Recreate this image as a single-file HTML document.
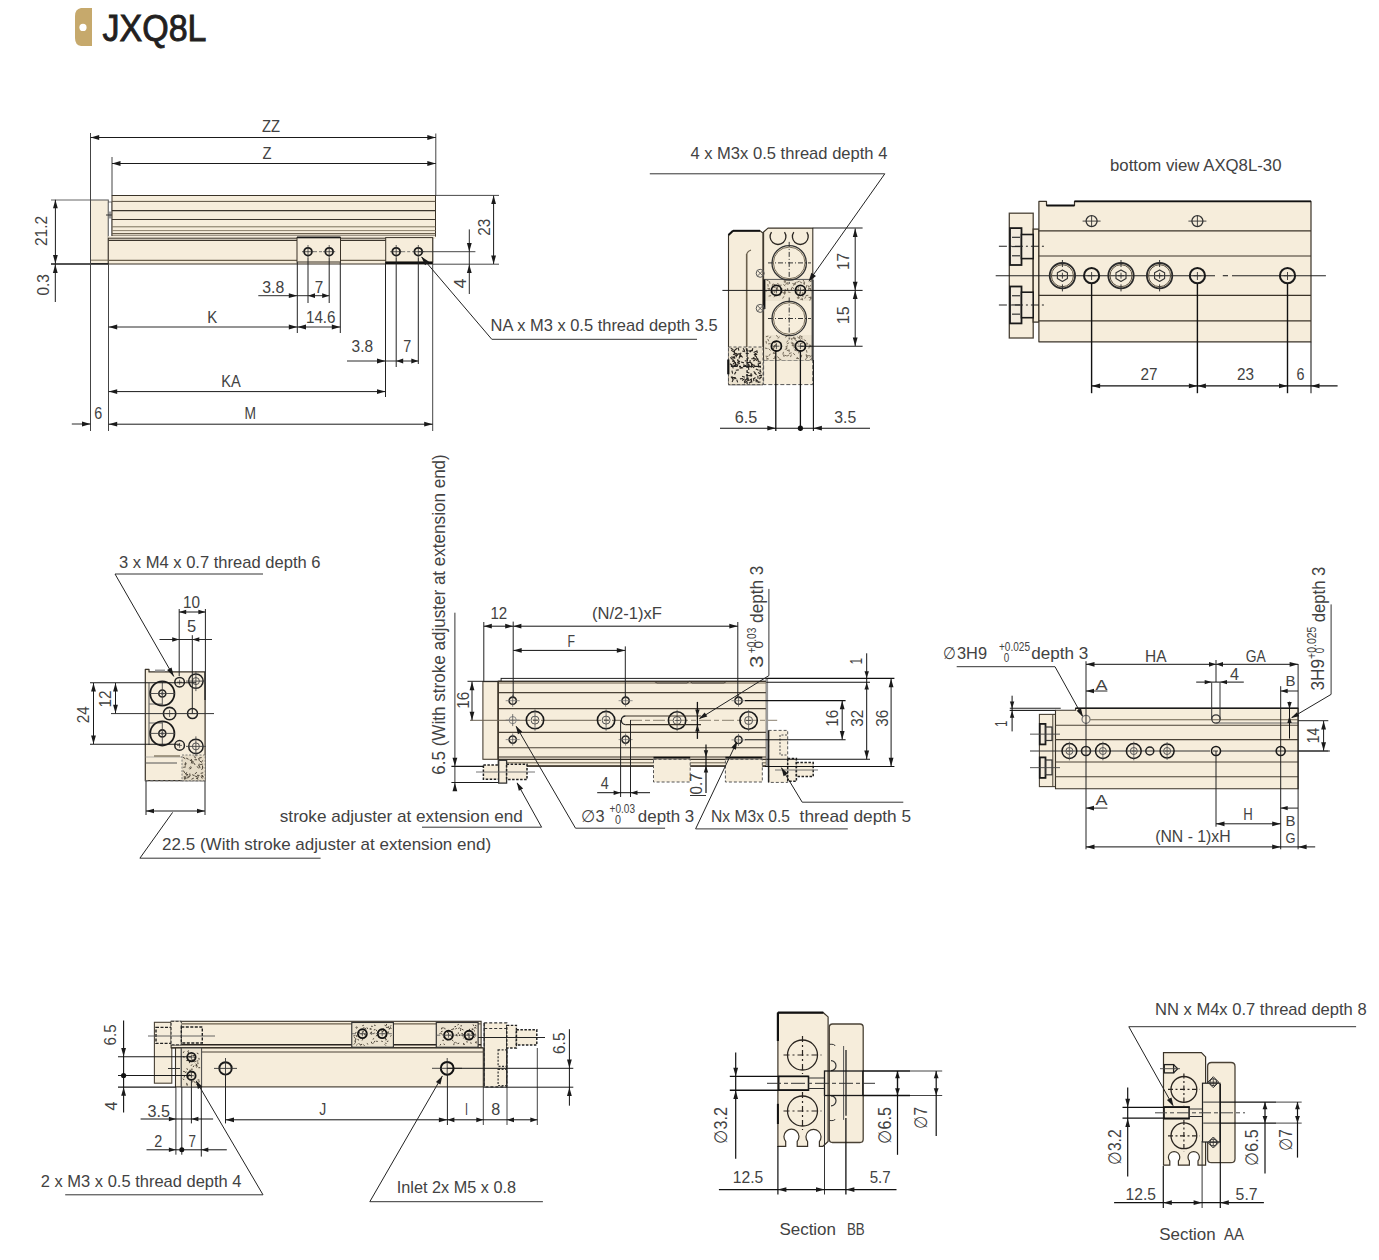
<!DOCTYPE html>
<html><head><meta charset="utf-8"><style>
html,body{margin:0;padding:0;background:#fff;}
svg{display:block;}
text{font-family:"Liberation Sans",sans-serif;}
</style></head><body>
<svg width="1379" height="1260" viewBox="0 0 1379 1260">
<rect x="0" y="0" width="1379" height="1260" fill="#fff"/>
<path d="M81,8 L92,8 L92,46 L81,46 Q75,45 75,38 L75,16 Q75,9 81,8 Z" stroke="none" stroke-width="0" fill="#c6a96c"/>
<circle cx="83" cy="27.4" r="3.6" stroke="none" stroke-width="0" fill="#fff"/>
<text x="102.5" y="40.5" font-size="37" fill="#231f20" text-anchor="start" textLength="104" lengthAdjust="spacingAndGlyphs" stroke="#231f20" stroke-width="0.9">JXQ8L</text>
<rect x="90.5" y="200" width="17.8" height="63.5" stroke="#555" stroke-width="1" fill="#f6eddb"/>
<line x1="90.5" y1="260.2" x2="108.3" y2="260.2" stroke="#8a7f6a" stroke-width="1.2"/>
<rect x="108.3" y="202" width="3.7" height="34.5" stroke="#555" stroke-width="0.8" fill="#fff"/>
<line x1="106" y1="215" x2="116" y2="215" stroke="#333" stroke-width="1"/>
<line x1="110" y1="211.5" x2="110" y2="218.5" stroke="#333" stroke-width="1"/>
<rect x="112" y="195.5" width="323.5" height="41" stroke="#3a3328" stroke-width="1" fill="#f6eddb"/>
<line x1="112" y1="201.4" x2="435.5" y2="201.4" stroke="#5a5040" stroke-width="1"/>
<line x1="112" y1="210.7" x2="435.5" y2="210.7" stroke="#3b352c" stroke-width="1.2"/>
<line x1="112" y1="219.5" x2="435.5" y2="219.5" stroke="#3b352c" stroke-width="1.2"/>
<line x1="112" y1="226.8" x2="435.5" y2="226.8" stroke="#7a6f5c" stroke-width="1"/>
<line x1="112" y1="230.6" x2="435.5" y2="230.6" stroke="#8a7f6a" stroke-width="1"/>
<line x1="112" y1="233.7" x2="435.5" y2="233.7" stroke="#6a5f4c" stroke-width="1.2"/>
<line x1="112" y1="236.3" x2="435.5" y2="236.3" stroke="#4a4236" stroke-width="1.6"/>
<rect x="108.3" y="236" width="327" height="3" fill="#f6eddb"/>
<rect x="108.3" y="238.2" width="324.4" height="25.8" stroke="#3a3328" stroke-width="1" fill="#f6eddb"/>
<line x1="108.3" y1="240.3" x2="432.7" y2="240.3" stroke="#3b352c" stroke-width="1.2"/>
<line x1="108.3" y1="260.4" x2="432.7" y2="260.4" stroke="#6a5f4c" stroke-width="1.2"/>
<rect x="297" y="237.6" width="43.5" height="24.4" stroke="#3a3328" stroke-width="1" fill="#f6eddb"/>
<circle cx="308" cy="251.7" r="3.9" stroke="#1a1a1a" stroke-width="1.8" fill="none"/>
<line x1="302" y1="251.7" x2="314" y2="251.7" stroke="#333" stroke-width="0.8"/>
<line x1="308" y1="245" x2="308" y2="258" stroke="#333" stroke-width="0.8"/>
<circle cx="329.2" cy="251.7" r="3.9" stroke="#1a1a1a" stroke-width="1.8" fill="none"/>
<line x1="323.2" y1="251.7" x2="335.2" y2="251.7" stroke="#333" stroke-width="0.8"/>
<line x1="329.2" y1="245" x2="329.2" y2="258" stroke="#333" stroke-width="0.8"/>
<line x1="314" y1="251.7" x2="323.2" y2="251.7" stroke="#555" stroke-width="0.8" stroke-dasharray="3,2"/>
<rect x="385.7" y="237.6" width="47" height="24.4" stroke="#3a3328" stroke-width="1" fill="#f6eddb"/>
<circle cx="396.2" cy="251.7" r="3.9" stroke="#1a1a1a" stroke-width="1.8" fill="none"/>
<line x1="390.2" y1="251.7" x2="402.2" y2="251.7" stroke="#333" stroke-width="0.8"/>
<line x1="396.2" y1="245" x2="396.2" y2="258" stroke="#333" stroke-width="0.8"/>
<circle cx="418.3" cy="251.7" r="3.9" stroke="#1a1a1a" stroke-width="1.8" fill="none"/>
<line x1="412.3" y1="251.7" x2="424.3" y2="251.7" stroke="#333" stroke-width="0.8"/>
<line x1="418.3" y1="245" x2="418.3" y2="258" stroke="#333" stroke-width="0.8"/>
<line x1="402.2" y1="251.7" x2="412.3" y2="251.7" stroke="#555" stroke-width="0.8" stroke-dasharray="3,2"/>
<line x1="297" y1="237.4" x2="340.5" y2="237.4" stroke="#1a1a1a" stroke-width="1.6"/>
<line x1="385.7" y1="262.8" x2="432.7" y2="262.8" stroke="#111" stroke-width="2.2"/>
<line x1="51" y1="264" x2="108.3" y2="264" stroke="#1a1a1a" stroke-width="1.3"/>
<line x1="432.7" y1="264.2" x2="499" y2="264.2" stroke="#333" stroke-width="0.9"/>
<line x1="435.5" y1="195.4" x2="499" y2="195.4" stroke="#333" stroke-width="0.9"/>
<line x1="51" y1="200" x2="90.5" y2="200" stroke="#555" stroke-width="0.9"/>
<line x1="418.3" y1="251.7" x2="475.4" y2="251.7" stroke="#333" stroke-width="0.9"/>
<line x1="90.5" y1="133" x2="90.5" y2="431" stroke="#444" stroke-width="1"/>
<line x1="112" y1="157" x2="112" y2="195.5" stroke="#444" stroke-width="1"/>
<line x1="435.8" y1="133.5" x2="435.8" y2="195.5" stroke="#444" stroke-width="1"/>
<line x1="108.5" y1="264" x2="108.5" y2="431" stroke="#444" stroke-width="1"/>
<line x1="432.7" y1="264" x2="432.7" y2="431" stroke="#444" stroke-width="1"/>
<line x1="297.3" y1="262" x2="297.3" y2="333" stroke="#222" stroke-width="1"/>
<line x1="308" y1="258" x2="308" y2="303" stroke="#222" stroke-width="1"/>
<line x1="329.2" y1="258" x2="329.2" y2="303" stroke="#222" stroke-width="1"/>
<line x1="340.3" y1="262" x2="340.3" y2="333" stroke="#222" stroke-width="1"/>
<line x1="385.5" y1="262" x2="385.5" y2="397" stroke="#222" stroke-width="1"/>
<line x1="396.2" y1="258" x2="396.2" y2="367" stroke="#222" stroke-width="1"/>
<line x1="418.3" y1="258" x2="418.3" y2="364" stroke="#222" stroke-width="1"/>
<line x1="90.7" y1="137.5" x2="435.8" y2="137.5" stroke="#1a1a1a" stroke-width="1"/>
<polygon points="90.7,137.5 99.2,135.1 99.2,139.9" fill="#1a1a1a"/>
<polygon points="435.8,137.5 427.3,139.9 427.3,135.1" fill="#1a1a1a"/>
<text x="262" y="132.2" font-size="17" fill="#424242" text-anchor="start" textLength="18" lengthAdjust="spacingAndGlyphs">ZZ</text>
<line x1="112" y1="163.5" x2="435.8" y2="163.5" stroke="#1a1a1a" stroke-width="1"/>
<polygon points="112,163.5 120.5,161.1 120.5,165.9" fill="#1a1a1a"/>
<polygon points="435.8,163.5 427.3,165.9 427.3,161.1" fill="#1a1a1a"/>
<text x="262.5" y="159.2" font-size="17" fill="#424242" text-anchor="start" textLength="9" lengthAdjust="spacingAndGlyphs">Z</text>
<line x1="55.4" y1="199.8" x2="55.4" y2="263.6" stroke="#1a1a1a" stroke-width="1"/>
<polygon points="55.4,199.8 57.8,208.3 53,208.3" fill="#1a1a1a"/>
<polygon points="55.4,263.6 53,255.1 57.8,255.1" fill="#1a1a1a"/>
<text transform="translate(47.4,246) rotate(-90)" x="0" y="0" font-size="17" fill="#424242" textLength="30" lengthAdjust="spacingAndGlyphs">21.2</text>
<line x1="55.3" y1="263.6" x2="55.3" y2="302" stroke="#1a1a1a" stroke-width="1"/>
<polygon points="55.3,264.5 57.7,273 52.9,273" fill="#1a1a1a"/>
<text transform="translate(49.2,295.6) rotate(-90)" x="0" y="0" font-size="17" fill="#424242" textLength="21.5" lengthAdjust="spacingAndGlyphs">0.3</text>
<line x1="493.6" y1="195.6" x2="493.6" y2="264" stroke="#1a1a1a" stroke-width="1"/>
<polygon points="493.6,195.6 496,204.1 491.2,204.1" fill="#1a1a1a"/>
<polygon points="493.6,264 491.2,255.5 496,255.5" fill="#1a1a1a"/>
<text transform="translate(490.4,235.8) rotate(-90)" x="0" y="0" font-size="17" fill="#424242" textLength="17" lengthAdjust="spacingAndGlyphs">23</text>
<line x1="469.3" y1="229.4" x2="469.3" y2="294" stroke="#2a2a2a" stroke-width="1"/>
<polygon points="469.3,251.5 466.9,243 471.7,243" fill="#1a1a1a"/>
<polygon points="469.3,264.4 471.7,272.9 466.9,272.9" fill="#1a1a1a"/>
<text transform="translate(466,288.6) rotate(-90)" x="0" y="0" font-size="17" fill="#424242" textLength="10" lengthAdjust="spacingAndGlyphs">4</text>
<line x1="258.3" y1="295.7" x2="329.2" y2="295.7" stroke="#2a2a2a" stroke-width="1"/>
<polygon points="297.3,295.7 288.8,298.1 288.8,293.3" fill="#1a1a1a"/>
<polygon points="308,295.7 315,293.3 315,298.1" fill="#1a1a1a"/>
<polygon points="329.2,295.7 322.2,298.1 322.2,293.3" fill="#1a1a1a"/>
<text x="262.3" y="292.6" font-size="17" fill="#424242" text-anchor="start" textLength="22" lengthAdjust="spacingAndGlyphs">3.8</text>
<text x="314.8" y="292.6" font-size="17" fill="#424242" text-anchor="start" textLength="8.5" lengthAdjust="spacingAndGlyphs">7</text>
<line x1="108.5" y1="327" x2="340.3" y2="327" stroke="#2a2a2a" stroke-width="1"/>
<polygon points="108.7,327 117.2,324.6 117.2,329.4" fill="#1a1a1a"/>
<polygon points="297.3,327 288.8,329.4 288.8,324.6" fill="#1a1a1a"/>
<polygon points="297.5,327 306,324.6 306,329.4" fill="#1a1a1a"/>
<polygon points="340.3,327 331.8,329.4 331.8,324.6" fill="#1a1a1a"/>
<text x="207.3" y="322.7" font-size="17" fill="#424242" text-anchor="start" textLength="10" lengthAdjust="spacingAndGlyphs">K</text>
<text x="306" y="322.7" font-size="17" fill="#424242" text-anchor="start" textLength="29.5" lengthAdjust="spacingAndGlyphs">14.6</text>
<line x1="347" y1="361" x2="418.3" y2="361" stroke="#2a2a2a" stroke-width="1"/>
<polygon points="385.5,361 377,363.4 377,358.6" fill="#1a1a1a"/>
<polygon points="396.2,361 403.2,358.6 403.2,363.4" fill="#1a1a1a"/>
<polygon points="418.3,361 411.3,363.4 411.3,358.6" fill="#1a1a1a"/>
<text x="351.6" y="351.6" font-size="17" fill="#424242" text-anchor="start" textLength="21.5" lengthAdjust="spacingAndGlyphs">3.8</text>
<text x="403.3" y="351.6" font-size="17" fill="#424242" text-anchor="start" textLength="8" lengthAdjust="spacingAndGlyphs">7</text>
<line x1="108.7" y1="391.6" x2="385.5" y2="391.6" stroke="#1a1a1a" stroke-width="1"/>
<polygon points="108.7,391.6 117.2,389.2 117.2,394" fill="#1a1a1a"/>
<polygon points="385.5,391.6 377,394 377,389.2" fill="#1a1a1a"/>
<text x="221.3" y="386.7" font-size="17" fill="#424242" text-anchor="start" textLength="19.5" lengthAdjust="spacingAndGlyphs">KA</text>
<line x1="71.8" y1="424" x2="90.5" y2="424" stroke="#2a2a2a" stroke-width="1"/>
<polygon points="90.5,424 82,426.4 82,421.6" fill="#1a1a1a"/>
<text x="94.3" y="418.8" font-size="17" fill="#424242" text-anchor="start" textLength="8" lengthAdjust="spacingAndGlyphs">6</text>
<line x1="108.7" y1="424.2" x2="432.7" y2="424.2" stroke="#1a1a1a" stroke-width="1"/>
<polygon points="108.7,424.2 117.2,421.8 117.2,426.6" fill="#1a1a1a"/>
<polygon points="432.7,424.2 424.2,426.6 424.2,421.8" fill="#1a1a1a"/>
<text x="244.4" y="419" font-size="17" fill="#424242" text-anchor="start" textLength="11.5" lengthAdjust="spacingAndGlyphs">M</text>
<line x1="421.7" y1="257" x2="491.8" y2="339.3" stroke="#222" stroke-width="1"/>
<polygon points="421.2,256.6 429.03,261.75 425.07,265.13" fill="#1a1a1a"/>
<line x1="491.8" y1="339.3" x2="697" y2="339.3" stroke="#333" stroke-width="1"/>
<text x="490.6" y="331.2" font-size="17" fill="#424242" text-anchor="start" textLength="227" lengthAdjust="spacingAndGlyphs">NA x M3 x 0.5 thread depth 3.5</text>
<text x="690.4" y="159.2" font-size="17" fill="#424242" text-anchor="start" textLength="197" lengthAdjust="spacingAndGlyphs">4 x M3x 0.5 thread depth 4</text>
<polygon points="733,230.8 760,230.8 762.9,233 762.9,384.6 728.5,384.6 728.5,235" stroke="#3a3328" stroke-width="1.1" fill="#f6eddb" stroke-linejoin="round"/>
<line x1="728.5" y1="235" x2="733" y2="230.8" stroke="#111" stroke-width="2"/>
<line x1="733" y1="230.8" x2="760" y2="230.8" stroke="#111" stroke-width="2"/>
<line x1="746.7" y1="253.7" x2="746.7" y2="349.6" stroke="#6a5f4c" stroke-width="1.6"/>
<path d="M746.7,253.7 Q748,251 751,250" stroke="#6a5f4c" stroke-width="1.2" fill="none"/>
<polygon points="768,228.1 812.8,228.1 812.8,360.3 763.6,360.3 763.6,232" stroke="#3a3328" stroke-width="1.1" fill="#f6eddb" stroke-linejoin="round"/>
<rect x="763.6" y="360.3" width="49.2" height="24.3" stroke="#555" stroke-width="1" fill="#f6eddb" stroke-dasharray="4,2"/>
<rect x="728.5" y="347" width="34.5" height="37.6" stroke="#555" stroke-width="1" fill="#efe5d0" stroke-dasharray="3,2"/>
<rect x="729.5" y="348" width="32.5" height="35.6" fill="#ece3d0"/>
<path d="M741.06,352.73L739.69,355.4M732.09,365.64L733.32,368.37M730.78,365.87L733.76,366.23M742.29,350.93L745.17,351.77M742.06,376.21L744.84,377.35M738.79,369.84L735.83,370.33M749.6,362.22L746.61,362.44M731,376.66L732.84,379.03M734.05,351.72L735.75,354.19M755.77,353.62L755.01,356.52M750.21,360.03L749.76,363M731.22,350.1L733.61,351.91M750.43,362.12L752.08,364.62M747.48,363.01L749.24,365.44M753.65,371.45L755.81,373.53M749.41,366.07L746.63,367.22M754.25,358.58L751.25,358.77M735.19,362.01L733.02,364.09M733.65,365.24L736.62,365.61M751.22,373.23L750.54,376.15M758.07,358.32L756.34,360.77M748.42,367L748.83,369.97M756,379.25L756.24,382.24M751.64,349.83L749.87,352.25M751.51,381.57L748.97,383.16M739.94,360.67L738.42,363.26M729.89,363.76L732.48,365.27M735.19,349.98L732.95,351.98M733.94,355.91L734.95,358.73M756.84,350.23L757.32,353.19M748.52,377.88L745.99,379.49M756.46,356.91L757.25,359.8M742.93,378.51L739.96,378.91M733.98,353.92L736.22,355.92M738.03,363.85L737.2,366.74M738.14,347.69L738.89,350.59M743.25,367.81L740.28,368.25M752.1,364.92L751.02,367.72M752.55,350.35L749.7,351.28M755.5,377.49L753.08,379.27M741.05,361.93L743.89,362.89M748.38,350.78L751.31,351.41M736.14,353.14L737.59,355.77M730.77,348.32L733.44,349.69M732.1,361.1L735.09,361.34M755.83,368.96L758.51,370.31M737.57,359.31L738.81,362.04M735.75,377.49L732.75,377.56M743.27,364.86L746.16,365.66M732.61,359.4L734.63,361.62M754.28,354.32L757.28,354.53M758.16,366.08L760.85,367.42M747.2,348.41L746.93,351.4M761.21,376.78L759.48,379.23M737.17,360.57L739.76,362.07M755.2,365.94L752.89,367.85M741.8,355.66L739.31,357.33M761.77,376.79L759.31,378.51M754.32,372.88L756.59,374.84M744.79,360.81L747.78,361.08M730.32,357.3L732.38,359.48M751.37,379.66L751.87,382.62M760.56,381.99L757.59,382.41M740.49,355.43L742.76,357.39M737.07,354.48L735.93,357.25M757.86,375.74L758.06,378.74M748.97,375.47L751.86,376.26M751.81,378.62L749.49,380.52M752.11,364.26L754.65,365.86M755.78,359.29L753.35,361.05M759.68,360.87L760.59,363.73M758.09,372.59L760.67,374.12M735.81,353.64L732.94,354.52M756.38,353.13L753.82,354.69M759.72,369.75L761.08,372.42M745.74,353.33L748.73,353.47M760.24,369.33L759.99,372.32M760.36,362.99L757.6,364.16M754.64,355.02L756.75,357.16M739.84,355.64L739.03,358.53M737.04,362.48L739.79,363.68M758.06,359.4L758.45,362.37M747.92,377.93L748.66,380.84M758.64,364.36L758.34,367.35M746.19,348.15L746.75,351.1M737.3,348.25L734.87,350.02M736.73,363.77L734.78,366.05M747.56,358.46L747.39,361.45M746.02,374.86L748.86,375.84M746.62,356.2L748.56,358.5M754.34,364.59L753.76,367.53M753.41,378.18L753.95,381.14M749.24,364.49L749.12,367.49M751.78,362.71L751.47,365.69M745.96,379.42L744.2,381.85M756.21,379.57L758.26,381.75M748.88,379.97L746.25,381.42M734.41,351.61L734.95,354.56M731.25,356.74L734.17,357.43M752.34,374.86L749.5,375.82M735.93,371.75L734.49,374.38M736.35,378.51L733.37,378.82M736.73,379.58L737.67,382.43M746.66,381.51L744.06,383.01M735.5,362L735.35,365M740.03,354.31L741.65,356.84M752.78,348.18L752.27,351.13M743.18,348.31L744.69,350.9M748.06,365.91L751,366.51M762.04,375.36L759.05,375.62M732.21,357.74L735.18,358.11M752.88,357.49L755.64,358.68M744.64,378.82L742.11,380.43M739.84,353.64L736.94,354.4M746.46,372.12L749.34,372.95M731.91,370.66L732.6,373.58M733.32,379.16L732.09,381.9M756.3,351.16L753.6,352.47M732.31,376.51L732.75,379.47M742.3,367.24L739.38,367.93" stroke="#2a2520" stroke-width="1.1" fill="none"/>
<line x1="728.3" y1="359.5" x2="728.3" y2="374.3" stroke="#111" stroke-width="2.2"/>
<line x1="731" y1="366.4" x2="762" y2="366.4" stroke="#222" stroke-width="1.2" stroke-dasharray="6,2,2,2"/>
<line x1="747.1" y1="350" x2="747.1" y2="384" stroke="#222" stroke-width="1.2" stroke-dasharray="6,2,2,2"/>
<rect x="764.5" y="279.4" width="47.5" height="21.6" fill="#ece3d0"/>
<path d="M791.81,287.55L791.18,290.07M775.98,295.66L773.77,297.03M795.32,282.24L795.15,284.84M781.7,285.11L779.13,285.49M812.02,280.72L809.67,281.83M792.13,286.87L793.76,288.89M796.93,288.27L795.49,290.44M796.58,282.14L794.64,283.87M810.65,298.18L809.75,300.62M766.33,279.95L768.7,281.01M807.78,285.15L808.85,287.52M806.57,285.28L806.17,287.85M785.68,280.42L785,282.93M802.91,282.62L804.9,284.31M784.27,279.82L784.3,282.42M802.85,292L802.58,294.59M804.68,282.06L804.14,284.6M781.31,291.73L783.74,292.64M799.66,281.64L801.91,282.94M801.97,297.7L802.51,300.25M783.5,284.22L785.19,286.2M792.38,283.42L794.79,284.37M786.82,282.47L785.65,284.79M802.78,294.34L802.94,296.94M780.01,288.9L782.61,288.94M797.22,285.8L798.62,288M769.47,287.93L768.8,290.44M783.95,296.33L782.6,298.56M777.73,290.34L775.24,291.06M787.89,291.95L790.44,292.46M787.37,288.21L788.16,290.68M784.79,290.57L784.47,293.16M787.55,282.37L788.03,284.93M808.28,288.39L810.87,288.68M764.35,290.69L766.91,291.1M769.53,281.25L769.91,283.82M810.5,288.62L810.84,291.2M785.15,288.94L785.58,291.5M799.3,296.94L797.79,299.06M786.01,292.77L783.51,293.5M772.97,283.84L772.01,286.26M797.12,291.74L796.4,294.25M804.31,289.05L802.17,290.53M810.46,288.38L808.11,289.49M796.89,297.63L799.47,298.01M808.34,295.28L805.76,295.58M810.81,284.88L809.49,287.11M773.19,291.74L770.67,292.39M772.98,286.94L775.49,287.58M773.12,284.08L775.6,284.86M810.84,296.5L811.13,299.09M799.43,292.73L799.25,295.32M784.99,292.14L784.54,294.7M778.1,286.34L777.09,288.74M794.47,283.28L793.59,285.73M805.91,296.32L804.71,298.63M767.44,288.34L769.94,289.06M767.84,284.1L768.19,286.68M799.23,291.72L800.87,293.73M797.16,289.03L797.09,291.63M776.87,287.91L778.12,290.2M798.34,288.58L798.77,291.14M787.93,288.73L786.47,290.88M797.87,294.86L798.63,297.34M802.91,299.28L800.31,299.34M799.44,281.08L797.14,282.28M802.89,279.61L804.23,281.83M780.6,293.69L779.71,296.14M777.22,283.4L779.47,284.71M771.12,295.63L768.57,296.16M776.79,294.8L774.22,295.2M773.98,290.33L774.47,292.89M808.56,297.38L811.15,297.51" stroke="#6a6050" stroke-width="0.9" fill="none"/>
<rect x="764.5" y="335" width="47.5" height="25.3" fill="#ece3d0"/>
<path d="M787.35,348.74L784.82,349.35M787.04,346.58L786.33,349.08M774.42,346.73L773.39,349.12M800.83,337.13L802.33,339.25M770.37,353.8L768.88,355.93M768.7,358.74L766.11,359.03M794.11,349.73L796.4,350.96M764.91,348.07L767.46,348.55M772.86,341.51L775.45,341.76M787.75,345.65L785.47,346.88M789.12,349.62L789.12,352.22M794.81,345.66L796.48,347.65M812.03,358.57L809.75,359.83M796.73,342.49L798.68,344.2M779.62,336.77L777.69,338.51M783.26,354.51L784.17,356.94M807.79,355.74L810.39,355.74M774.92,355.92L775.16,358.5M808.84,344.96L811.37,345.56M793.28,353.16L795,355.11M770.76,343.6L768.17,343.9M799.06,337.84L800.92,339.66M771.14,336.62L769.05,338.17M773.37,347.75L773.8,350.31M772.98,352.53L775.37,353.57M794.47,337.45L795.11,339.97M776.48,342.17L773.89,342.4M803.27,342.63L800.84,343.55M776.25,344.61L773.92,345.76M796,338.29L793.4,338.38M776.18,341.17L774.22,342.87M779.2,342.61L781.73,343.2M768.66,348.68L770.54,350.48M792.67,343.37L793.05,345.95M809.44,346.01L808.84,348.54M803.78,339.65L806.08,340.87M805.91,354.14L807.75,355.97M775.41,352.99L772.86,353.47M775.66,357.67L773.23,358.61M791.73,345.4L794.19,346.24M766.31,357.55L768.21,359.32M798.66,341.3L796.45,342.67M791.53,342.16L793.75,343.52M797.3,336.75L799.26,338.46M791.41,354.64L790.49,357.08M777.21,356.6L779.29,358.15M766.03,340.99L766.47,343.55M767.73,338.92L768.77,341.3M790.99,337.89L792.08,340.25M806.65,357.7L805.42,359.99M795.77,349.06L798.13,350.17M768.34,336.06L765.85,336.78M796.1,358.35L798.69,358.52M795.31,346.26L793.59,348.21M778.75,358.98L781.27,359.59M791.58,352.77L789.11,353.57M800.07,351.61L798,353.18M807.85,343.11L806.42,345.28M806.15,355.04L806.82,357.55M801.76,354.85L801.17,357.39M794.27,343.65L793.6,346.16M793.75,336.69L792.65,339.05M811.55,355.52L809.84,357.48M783.5,351.87L782.85,354.38M784.29,355.2L786.8,355.87M800.04,335.46L799.23,337.93M788.14,340.31L786.62,342.42M789.38,350L786.87,350.64M776.38,335.21L777.9,337.32M795.24,340.06L797.48,341.38M806.47,350.1L806.95,352.66M806.72,342.49L805.43,344.75M775.6,345.3L773.47,346.78M806.64,355.3L807.56,357.73M790.85,342.83L793.21,343.91M789.25,354.91L786.93,356.1M797.02,357.14L798.7,359.13M772.35,345.51L774.04,347.49M775.74,344.45L774.74,346.85M789.11,342.72L786.83,343.98M808.92,346.24L811.45,346.84M765.64,356.17L768.22,356.51M797.01,348.22L798.48,350.37M800.33,335.91L802.7,336.98M787.31,335.91L785.08,337.24" stroke="#6a6050" stroke-width="0.9" fill="none"/>
<line x1="764.2" y1="279.4" x2="812.8" y2="279.4" stroke="#555" stroke-width="1"/>
<path d="M771.5,232.1 A7.9,7.9 0 1 0 784.5,232.1" stroke="#2a2520" stroke-width="1.3" fill="none"/>
<path d="M793.8,232.1 A7.9,7.9 0 1 0 806.8,232.1" stroke="#2a2520" stroke-width="1.3" fill="none"/>
<circle cx="789.2" cy="262.9" r="17.2" stroke="#333" stroke-width="1.3" fill="none"/>
<circle cx="789.2" cy="262.9" r="15.8" stroke="#6a5f4c" stroke-width="0.9" fill="none"/>
<line x1="768" y1="262.9" x2="811" y2="262.9" stroke="#333" stroke-width="1" stroke-dasharray="5,2,1,2"/>
<line x1="789.2" y1="241.9" x2="789.2" y2="283.9" stroke="#333" stroke-width="1" stroke-dasharray="5,2,1,2"/>
<circle cx="789.2" cy="318.5" r="17.2" stroke="#333" stroke-width="1.3" fill="none"/>
<circle cx="789.2" cy="318.5" r="15.8" stroke="#6a5f4c" stroke-width="0.9" fill="none"/>
<line x1="768" y1="318.5" x2="811" y2="318.5" stroke="#333" stroke-width="1" stroke-dasharray="5,2,1,2"/>
<line x1="789.2" y1="297.5" x2="789.2" y2="339.5" stroke="#333" stroke-width="1" stroke-dasharray="5,2,1,2"/>
<circle cx="776.4" cy="290.4" r="5" stroke="#111" stroke-width="1.8" fill="none"/>
<line x1="773.4" y1="290.4" x2="779.4" y2="290.4" stroke="#333" stroke-width="0.8"/>
<line x1="776.4" y1="287.4" x2="776.4" y2="293.4" stroke="#333" stroke-width="0.8"/>
<circle cx="800.4" cy="290.4" r="5" stroke="#111" stroke-width="1.8" fill="none"/>
<line x1="797.4" y1="290.4" x2="803.4" y2="290.4" stroke="#333" stroke-width="0.8"/>
<line x1="800.4" y1="287.4" x2="800.4" y2="293.4" stroke="#333" stroke-width="0.8"/>
<circle cx="776.4" cy="346.2" r="5" stroke="#111" stroke-width="1.8" fill="none"/>
<line x1="773.4" y1="346.2" x2="779.4" y2="346.2" stroke="#333" stroke-width="0.8"/>
<line x1="776.4" y1="343.2" x2="776.4" y2="349.2" stroke="#333" stroke-width="0.8"/>
<circle cx="800.4" cy="346.2" r="5" stroke="#111" stroke-width="1.8" fill="none"/>
<line x1="797.4" y1="346.2" x2="803.4" y2="346.2" stroke="#333" stroke-width="0.8"/>
<line x1="800.4" y1="343.2" x2="800.4" y2="349.2" stroke="#333" stroke-width="0.8"/>
<line x1="764.3" y1="279.4" x2="764.3" y2="309" stroke="#111" stroke-width="2.2"/>
<line x1="812.6" y1="280" x2="812.6" y2="360" stroke="#444" stroke-width="2"/>
<line x1="812.8" y1="228" x2="862.6" y2="228" stroke="#1a1a1a" stroke-width="1.1"/>
<line x1="722.4" y1="290.4" x2="862.6" y2="290.4" stroke="#1a1a1a" stroke-width="1"/>
<line x1="800.4" y1="346.3" x2="862.6" y2="346.3" stroke="#1a1a1a" stroke-width="1.1"/>
<line x1="855.2" y1="228.5" x2="855.2" y2="290.2" stroke="#1a1a1a" stroke-width="1"/>
<polygon points="855.2,228.5 857.6,237 852.8,237" fill="#1a1a1a"/>
<polygon points="855.2,290.2 852.8,281.7 857.6,281.7" fill="#1a1a1a"/>
<line x1="855.2" y1="290.6" x2="855.2" y2="346" stroke="#1a1a1a" stroke-width="1"/>
<polygon points="855.2,290.6 857.6,299.1 852.8,299.1" fill="#1a1a1a"/>
<polygon points="855.2,346 852.8,337.5 857.6,337.5" fill="#1a1a1a"/>
<text transform="translate(849.2,270) rotate(-90)" x="0" y="0" font-size="17" fill="#424242" textLength="17" lengthAdjust="spacingAndGlyphs">17</text>
<text transform="translate(849.2,324.3) rotate(-90)" x="0" y="0" font-size="17" fill="#424242" textLength="18" lengthAdjust="spacingAndGlyphs">15</text>
<line x1="775.8" y1="350" x2="775.8" y2="431" stroke="#111" stroke-width="1.3"/>
<line x1="800.4" y1="350" x2="800.4" y2="431" stroke="#111" stroke-width="1.3"/>
<line x1="813.4" y1="360" x2="813.4" y2="431" stroke="#111" stroke-width="1.1"/>
<line x1="720" y1="428.2" x2="870" y2="428.2" stroke="#111" stroke-width="1.1"/>
<polygon points="775.8,428.2 767.3,430.6 767.3,425.8" fill="#1a1a1a"/>
<polygon points="813.4,428.2 821.9,425.8 821.9,430.6" fill="#1a1a1a"/>
<circle cx="800.4" cy="428.2" r="2.6" stroke="none" stroke-width="0" fill="#111"/>
<text x="734.7" y="422.7" font-size="17" fill="#424242" text-anchor="start" textLength="22.5" lengthAdjust="spacingAndGlyphs">6.5</text>
<text x="834.3" y="422.7" font-size="17" fill="#424242" text-anchor="start" textLength="22" lengthAdjust="spacingAndGlyphs">3.5</text>
<circle cx="760.2" cy="273.3" r="4" stroke="#555" stroke-width="1" fill="none"/>
<circle cx="760.2" cy="308.4" r="4" stroke="#555" stroke-width="1" fill="none"/>
<line x1="757.6" y1="270.7" x2="762.8" y2="275.9" stroke="#555" stroke-width="0.9"/>
<line x1="757.6" y1="275.9" x2="762.8" y2="270.7" stroke="#555" stroke-width="0.9"/>
<line x1="757.6" y1="305.8" x2="762.8" y2="311" stroke="#555" stroke-width="0.9"/>
<line x1="757.6" y1="311" x2="762.8" y2="305.8" stroke="#555" stroke-width="0.9"/>
<line x1="649.8" y1="173.8" x2="884.8" y2="173.8" stroke="#333" stroke-width="1"/>
<line x1="884.8" y1="173.8" x2="809.7" y2="280" stroke="#222" stroke-width="1"/>
<polygon points="808.5,281.7 811.41,272.73 815.98,275.97" fill="#1a1a1a"/>
<text x="1110" y="170.8" font-size="17" fill="#424242" text-anchor="start" textLength="171.5" lengthAdjust="spacingAndGlyphs">bottom view AXQ8L-30</text>
<rect x="1009.3" y="213.2" width="23.9" height="124.8" stroke="#4a4236" stroke-width="1.3" fill="#f6eddb"/>
<rect x="1033.2" y="229.1" width="5.7" height="93" stroke="#3a3328" stroke-width="1.3" fill="#f6eddb"/>
<polygon points="1038.9,201.4 1046.5,201.4 1046.5,205.5 1074.5,205.5 1074.5,201.4 1311,201.4 1311,341.8 1038.9,341.8" stroke="#3a3328" stroke-width="1.2" fill="#f6eddb" stroke-linejoin="round"/>
<line x1="1046.5" y1="205.5" x2="1074.5" y2="205.5" stroke="#111" stroke-width="2"/>
<line x1="1074.5" y1="201.4" x2="1311" y2="201.4" stroke="#111" stroke-width="1.8"/>
<line x1="1038.9" y1="230.9" x2="1311" y2="230.9" stroke="#3a3328" stroke-width="1.2"/>
<line x1="1038.9" y1="256" x2="1311" y2="256" stroke="#3a3328" stroke-width="1.2"/>
<line x1="1038.9" y1="295.4" x2="1311" y2="295.4" stroke="#3a3328" stroke-width="1.2"/>
<line x1="1038.9" y1="320.8" x2="1311" y2="320.8" stroke="#3a3328" stroke-width="1.2"/>
<rect x="1010" y="228.1" width="11.5" height="36.9" stroke="#1a1a1a" stroke-width="1.8" fill="#f3ebdd"/>
<rect x="1021.5" y="234.5" width="11.7" height="24.1" stroke="#1a1a1a" stroke-width="1.6" fill="#f3ebdd"/>
<line x1="1012" y1="237.32" x2="1020" y2="237.32" stroke="#333" stroke-width="1.2"/>
<line x1="1012" y1="246.55" x2="1020" y2="246.55" stroke="#333" stroke-width="1.2"/>
<line x1="1012" y1="255.78" x2="1020" y2="255.78" stroke="#333" stroke-width="1.2"/>
<line x1="998.9" y1="246.3" x2="1044" y2="246.3" stroke="#222" stroke-width="1.1" stroke-dasharray="8,3,2,3"/>
<rect x="1010" y="286.5" width="11.5" height="36.9" stroke="#1a1a1a" stroke-width="1.8" fill="#f3ebdd"/>
<rect x="1021.5" y="292.2" width="11.7" height="25.5" stroke="#1a1a1a" stroke-width="1.6" fill="#f3ebdd"/>
<line x1="1012" y1="295.73" x2="1020" y2="295.73" stroke="#333" stroke-width="1.2"/>
<line x1="1012" y1="304.95" x2="1020" y2="304.95" stroke="#333" stroke-width="1.2"/>
<line x1="1012" y1="314.17" x2="1020" y2="314.17" stroke="#333" stroke-width="1.2"/>
<line x1="998.9" y1="305" x2="1044" y2="305" stroke="#222" stroke-width="1.1" stroke-dasharray="8,3,2,3"/>
<line x1="995.7" y1="275.7" x2="1215" y2="275.7" stroke="#222" stroke-width="1.1"/>
<line x1="1222.8" y1="275.7" x2="1228" y2="275.7" stroke="#222" stroke-width="1.1"/>
<line x1="1232" y1="275.7" x2="1325.9" y2="275.7" stroke="#222" stroke-width="1.1"/>
<circle cx="1091.6" cy="221.1" r="5.5" stroke="#333" stroke-width="1.3" fill="none"/>
<line x1="1082.6" y1="221.1" x2="1100.6" y2="221.1" stroke="#333" stroke-width="0.9"/>
<line x1="1091.6" y1="216" x2="1091.6" y2="227" stroke="#333" stroke-width="0.9"/>
<circle cx="1197.4" cy="221.1" r="5.5" stroke="#333" stroke-width="1.3" fill="none"/>
<line x1="1188.4" y1="221.1" x2="1206.4" y2="221.1" stroke="#333" stroke-width="0.9"/>
<line x1="1197.4" y1="216" x2="1197.4" y2="227" stroke="#333" stroke-width="0.9"/>
<circle cx="1062.4" cy="275.7" r="12.7" stroke="#2a2a2a" stroke-width="1.8" fill="none"/>
<circle cx="1062.4" cy="275.7" r="11" stroke="#5a5040" stroke-width="1" fill="none"/>
<polygon points="1067.42,278.6 1062.4,281.5 1057.38,278.6 1057.38,272.8 1062.4,269.9 1067.42,272.8" stroke="#333" stroke-width="1.1" fill="none" stroke-linejoin="round"/>
<line x1="1059.4" y1="275.7" x2="1065.4" y2="275.7" stroke="#333" stroke-width="0.9"/>
<line x1="1062.4" y1="272.7" x2="1062.4" y2="278.7" stroke="#333" stroke-width="0.9"/>
<line x1="1062.4" y1="260" x2="1062.4" y2="267" stroke="#333" stroke-width="1"/>
<line x1="1062.4" y1="284.4" x2="1062.4" y2="291.4" stroke="#333" stroke-width="1"/>
<circle cx="1121" cy="275.7" r="12.7" stroke="#2a2a2a" stroke-width="1.8" fill="none"/>
<circle cx="1121" cy="275.7" r="11" stroke="#5a5040" stroke-width="1" fill="none"/>
<polygon points="1126.02,278.6 1121,281.5 1115.98,278.6 1115.98,272.8 1121,269.9 1126.02,272.8" stroke="#333" stroke-width="1.1" fill="none" stroke-linejoin="round"/>
<line x1="1118" y1="275.7" x2="1124" y2="275.7" stroke="#333" stroke-width="0.9"/>
<line x1="1121" y1="272.7" x2="1121" y2="278.7" stroke="#333" stroke-width="0.9"/>
<line x1="1121" y1="260" x2="1121" y2="267" stroke="#333" stroke-width="1"/>
<line x1="1121" y1="284.4" x2="1121" y2="291.4" stroke="#333" stroke-width="1"/>
<circle cx="1159.6" cy="275.7" r="12.7" stroke="#2a2a2a" stroke-width="1.8" fill="none"/>
<circle cx="1159.6" cy="275.7" r="11" stroke="#5a5040" stroke-width="1" fill="none"/>
<polygon points="1164.62,278.6 1159.6,281.5 1154.58,278.6 1154.58,272.8 1159.6,269.9 1164.62,272.8" stroke="#333" stroke-width="1.1" fill="none" stroke-linejoin="round"/>
<line x1="1156.6" y1="275.7" x2="1162.6" y2="275.7" stroke="#333" stroke-width="0.9"/>
<line x1="1159.6" y1="272.7" x2="1159.6" y2="278.7" stroke="#333" stroke-width="0.9"/>
<line x1="1159.6" y1="260" x2="1159.6" y2="267" stroke="#333" stroke-width="1"/>
<line x1="1159.6" y1="284.4" x2="1159.6" y2="291.4" stroke="#333" stroke-width="1"/>
<circle cx="1091.6" cy="275.7" r="7.6" stroke="#1a1a1a" stroke-width="2" fill="none"/>
<line x1="1087.6" y1="275.7" x2="1095.6" y2="275.7" stroke="#333" stroke-width="0.9"/>
<line x1="1091.6" y1="272" x2="1091.6" y2="280" stroke="#333" stroke-width="0.9"/>
<circle cx="1197.4" cy="275.7" r="7.6" stroke="#1a1a1a" stroke-width="2" fill="none"/>
<line x1="1193.4" y1="275.7" x2="1201.4" y2="275.7" stroke="#333" stroke-width="0.9"/>
<line x1="1197.4" y1="272" x2="1197.4" y2="280" stroke="#333" stroke-width="0.9"/>
<circle cx="1287.5" cy="275.7" r="7.6" stroke="#1a1a1a" stroke-width="2" fill="none"/>
<line x1="1283.5" y1="275.7" x2="1291.5" y2="275.7" stroke="#333" stroke-width="0.9"/>
<line x1="1287.5" y1="272" x2="1287.5" y2="280" stroke="#333" stroke-width="0.9"/>
<line x1="1091.6" y1="284" x2="1091.6" y2="393.2" stroke="#111" stroke-width="1.4"/>
<line x1="1197.4" y1="284" x2="1197.4" y2="393.2" stroke="#111" stroke-width="1.4"/>
<line x1="1287.5" y1="284" x2="1287.5" y2="393.2" stroke="#111" stroke-width="1.4"/>
<line x1="1311" y1="341.8" x2="1311" y2="393.2" stroke="#222" stroke-width="1.1"/>
<line x1="1091.6" y1="385.9" x2="1337.6" y2="385.9" stroke="#111" stroke-width="1.1"/>
<polygon points="1091.6,385.9 1100.1,383.5 1100.1,388.3" fill="#1a1a1a"/>
<polygon points="1197.4,385.9 1188.9,388.3 1188.9,383.5" fill="#1a1a1a"/>
<polygon points="1197.4,385.9 1205.9,383.5 1205.9,388.3" fill="#1a1a1a"/>
<polygon points="1287.5,385.9 1279,388.3 1279,383.5" fill="#1a1a1a"/>
<polygon points="1311,385.9 1319.5,383.5 1319.5,388.3" fill="#1a1a1a"/>
<text x="1140.5" y="380" font-size="17" fill="#424242" text-anchor="start" textLength="17" lengthAdjust="spacingAndGlyphs">27</text>
<text x="1237" y="380" font-size="17" fill="#424242" text-anchor="start" textLength="17" lengthAdjust="spacingAndGlyphs">23</text>
<text x="1296.4" y="380" font-size="17" fill="#424242" text-anchor="start" textLength="8" lengthAdjust="spacingAndGlyphs">6</text>
<text x="119" y="567.5" font-size="17" fill="#424242" text-anchor="start" textLength="201.5" lengthAdjust="spacingAndGlyphs">3 x M4 x 0.7 thread depth 6</text>
<line x1="115" y1="574" x2="263" y2="574" stroke="#333" stroke-width="1"/>
<polygon points="145.3,669.3 149,669.3 149,671.9 205.1,671.9 205.1,780.7 145.3,780.7" stroke="#3a3328" stroke-width="1.2" fill="#f6eddb" stroke-linejoin="round"/>
<line x1="145.3" y1="757" x2="205.1" y2="757" stroke="#888" stroke-width="0.6"/>
<line x1="145.3" y1="780.7" x2="205.1" y2="780.7" stroke="#666" stroke-width="1.3" stroke-dasharray="3,2"/>
<rect x="182" y="755" width="23.1" height="25.7" stroke="#666" stroke-width="0.8" fill="#e6dcc8" stroke-dasharray="2,1.5"/>
<path d="M196.88,772.32L194.8,773.88M203.17,772.74L200.65,773.37M185.83,766.87L183.27,767.33M195.11,776.1L197.55,777M193.09,761.06L192.73,763.64M193.89,756.47L195.92,758.1M190.27,776.01L188.35,777.76M185.85,773.75L188.21,774.85M194.43,759.74L197.03,759.76M199.54,760.73L201.57,762.36M201.87,774.91L203.47,776.96M202.96,767.6L201.58,769.8M188.62,776.35L187.16,778.49M201.6,775.35L203.13,777.44M189.7,760.03L192.03,761.18M185.65,762.31L184.82,764.77M183.43,770.58L184.7,772.85M189.81,773.46L189.97,776.06M190.78,766.4L189.22,768.48M183.79,778.07L186.38,778.25M196.95,775.26L199.54,775.41M199.28,763.69L198.65,766.21M183.08,757.31L185.27,758.71M203.08,760.36L201.21,762.17M201.05,776.29L202.27,778.59M191.73,767.54L189.75,769.23M187.1,772.47L185.01,774.01M201.62,757.57L199.05,758.02M186.18,763.17L185.29,765.62M202.71,764.07L200.18,764.68M193.65,762.69L195.07,764.87M186.21,758.11L188.53,759.28M195.96,778L198.23,779.26M185.06,777.12L184.79,779.7M192.09,760.91L191.33,763.39M199.38,765.63L200.02,768.15M183.77,776.75L186.35,777.01M192.19,774.68L194.57,775.71M198.42,776.42L197.38,778.8M198.71,758.04L199.24,760.59M186.05,774.29L187.62,776.37M193.77,778.1L191.45,779.27M202.5,765.54L202.59,768.14M197.07,766.37L198.65,768.42M191.18,758.98L192.16,761.38" stroke="#4a4236" stroke-width="1" fill="none"/>
<line x1="154" y1="756" x2="180" y2="756" stroke="#8a7f6a" stroke-width="1.5"/>
<line x1="145.3" y1="763" x2="177" y2="763" stroke="#555" stroke-width="1"/>
<line x1="205.1" y1="672" x2="205.1" y2="700" stroke="#333" stroke-width="1.6"/>
<line x1="155" y1="670.5" x2="165" y2="670.5" stroke="#999" stroke-width="2"/>
<line x1="149" y1="683" x2="149" y2="745" stroke="#555" stroke-width="1"/>
<line x1="149" y1="704" x2="162" y2="704" stroke="#666" stroke-width="1"/>
<line x1="149" y1="723" x2="162" y2="723" stroke="#666" stroke-width="1"/>
<circle cx="162.3" cy="693.5" r="12.1" stroke="#1a1a1a" stroke-width="1.8" fill="none"/>
<circle cx="162.3" cy="693.5" r="3.5" stroke="#222" stroke-width="1.6" fill="none"/>
<circle cx="162.3" cy="693.5" r="1.5" stroke="#777" stroke-width="0" fill="#888"/>
<line x1="150" y1="693.5" x2="175" y2="693.5" stroke="#444" stroke-width="0.9"/>
<line x1="162.3" y1="681.5" x2="162.3" y2="705.5" stroke="#444" stroke-width="0.9"/>
<circle cx="162.3" cy="733.4" r="12.1" stroke="#1a1a1a" stroke-width="1.8" fill="none"/>
<circle cx="162.3" cy="733.4" r="3.5" stroke="#222" stroke-width="1.6" fill="none"/>
<circle cx="162.3" cy="733.4" r="1.5" stroke="#777" stroke-width="0" fill="#888"/>
<line x1="150" y1="733.4" x2="175" y2="733.4" stroke="#444" stroke-width="0.9"/>
<line x1="162.3" y1="721.4" x2="162.3" y2="745.4" stroke="#444" stroke-width="0.9"/>
<circle cx="169.6" cy="713.6" r="6.2" stroke="#222" stroke-width="1.6" fill="none"/>
<line x1="166" y1="713.6" x2="173" y2="713.6" stroke="#444" stroke-width="0.8"/>
<line x1="169.6" y1="710" x2="169.6" y2="717" stroke="#444" stroke-width="0.8"/>
<circle cx="192.5" cy="713.6" r="5" stroke="#222" stroke-width="1.5" fill="none"/>
<line x1="190" y1="713.6" x2="195" y2="713.6" stroke="#444" stroke-width="0.8"/>
<circle cx="179.6" cy="682.2" r="4.8" stroke="#222" stroke-width="1.5" fill="none"/>
<line x1="177" y1="682.2" x2="182" y2="682.2" stroke="#444" stroke-width="0.8"/>
<line x1="179.6" y1="679.7" x2="179.6" y2="684.7" stroke="#444" stroke-width="0.8"/>
<circle cx="179.6" cy="745.4" r="4.8" stroke="#222" stroke-width="1.5" fill="none"/>
<line x1="177" y1="745.4" x2="182" y2="745.4" stroke="#444" stroke-width="0.8"/>
<line x1="179.6" y1="742.9" x2="179.6" y2="747.9" stroke="#444" stroke-width="0.8"/>
<circle cx="195.9" cy="681.1" r="7.2" stroke="#222" stroke-width="1.5" fill="none"/>
<circle cx="195.9" cy="681.1" r="3.5" stroke="#555" stroke-width="1" fill="none"/>
<line x1="195.9" y1="671.1" x2="195.9" y2="691.1" stroke="#444" stroke-width="0.9"/>
<line x1="186" y1="681.1" x2="206" y2="681.1" stroke="#444" stroke-width="0.9"/>
<circle cx="195.9" cy="746.4" r="7.2" stroke="#222" stroke-width="1.5" fill="none"/>
<circle cx="195.9" cy="746.4" r="3.5" stroke="#555" stroke-width="1" fill="none"/>
<line x1="195.9" y1="736.4" x2="195.9" y2="756.4" stroke="#444" stroke-width="0.9"/>
<line x1="186" y1="746.4" x2="206" y2="746.4" stroke="#444" stroke-width="0.9"/>
<text x="183" y="608" font-size="17" fill="#424242" text-anchor="start" textLength="17" lengthAdjust="spacingAndGlyphs">10</text>
<line x1="179.2" y1="612" x2="205.4" y2="612" stroke="#1a1a1a" stroke-width="1"/>
<polygon points="179.2,612 186.2,609.8 186.2,614.2" fill="#1a1a1a"/>
<polygon points="205.4,612 198.4,614.2 198.4,609.8" fill="#1a1a1a"/>
<text x="187" y="631.7" font-size="17" fill="#424242" text-anchor="start" textLength="9.2" lengthAdjust="spacingAndGlyphs">5</text>
<line x1="159.5" y1="639.5" x2="212" y2="639.5" stroke="#2a2a2a" stroke-width="1"/>
<polygon points="179.2,639.5 172.2,641.7 172.2,637.3" fill="#1a1a1a"/>
<polygon points="192.3,639.5 199.3,637.3 199.3,641.7" fill="#1a1a1a"/>
<line x1="179.2" y1="609" x2="179.2" y2="676" stroke="#222" stroke-width="1"/>
<line x1="192.3" y1="635.2" x2="192.3" y2="714" stroke="#222" stroke-width="1"/>
<line x1="205.4" y1="609" x2="205.4" y2="672" stroke="#222" stroke-width="1"/>
<line x1="90" y1="682.7" x2="196" y2="682.7" stroke="#1a1a1a" stroke-width="1.1"/>
<line x1="90" y1="744.3" x2="180" y2="744.3" stroke="#1a1a1a" stroke-width="1.1"/>
<line x1="111" y1="713.6" x2="214" y2="713.6" stroke="#333" stroke-width="1"/>
<line x1="93.5" y1="683" x2="93.5" y2="744" stroke="#1a1a1a" stroke-width="1"/>
<polygon points="93.5,683 95.9,691.5 91.1,691.5" fill="#1a1a1a"/>
<polygon points="93.5,744 91.1,735.5 95.9,735.5" fill="#1a1a1a"/>
<line x1="115.5" y1="683" x2="115.5" y2="713.3" stroke="#1a1a1a" stroke-width="1"/>
<polygon points="115.5,683 117.9,691.5 113.1,691.5" fill="#1a1a1a"/>
<polygon points="115.5,713.3 113.1,704.8 117.9,704.8" fill="#1a1a1a"/>
<text transform="translate(89.3,723.3) rotate(-90)" x="0" y="0" font-size="17" fill="#424242" textLength="17" lengthAdjust="spacingAndGlyphs">24</text>
<text transform="translate(111,707.6) rotate(-90)" x="0" y="0" font-size="17" fill="#424242" textLength="17" lengthAdjust="spacingAndGlyphs">12</text>
<line x1="146" y1="781" x2="146" y2="815" stroke="#222" stroke-width="1"/>
<line x1="205" y1="781" x2="205" y2="815" stroke="#222" stroke-width="1"/>
<line x1="146" y1="811" x2="205" y2="811" stroke="#1a1a1a" stroke-width="1"/>
<polygon points="146,811 154,808.7 154,813.3" fill="#1a1a1a"/>
<polygon points="205,811 197,813.3 197,808.7" fill="#1a1a1a"/>
<line x1="172.6" y1="812.4" x2="139.9" y2="858.2" stroke="#222" stroke-width="1"/>
<line x1="139.9" y1="858.2" x2="320.6" y2="858.2" stroke="#333" stroke-width="1"/>
<text x="162.1" y="850.4" font-size="17" fill="#424242" text-anchor="start" textLength="329" lengthAdjust="spacingAndGlyphs">22.5 (With stroke adjuster at extension end)</text>
<line x1="115" y1="574" x2="173.8" y2="676.5" stroke="#222" stroke-width="1"/>
<polygon points="173.8,676.5 167.05,670.01 171.55,667.41" fill="#1a1a1a"/>
<text transform="translate(444.6,774.8) rotate(-90)" x="0" y="0" font-size="18" fill="#424242" textLength="320.6" lengthAdjust="spacingAndGlyphs">6.5 (With stroke adjuster at extension end)</text>
<line x1="454.9" y1="612.7" x2="454.9" y2="790" stroke="#333" stroke-width="1"/>
<polygon points="454.9,766.2 452.5,757.7 457.3,757.7" fill="#1a1a1a"/>
<polygon points="454.9,782.7 457.3,791.2 452.5,791.2" fill="#1a1a1a"/>
<line x1="451.4" y1="766.4" x2="498" y2="766.4" stroke="#1a1a1a" stroke-width="1.1"/>
<line x1="451.4" y1="782.5" x2="506.3" y2="782.5" stroke="#1a1a1a" stroke-width="1.1"/>
<rect x="482.9" y="681.6" width="15.3" height="77.7" stroke="#4a4236" stroke-width="1.1" fill="#f6eddb"/>
<rect x="498.2" y="681.3" width="268.1" height="85" stroke="#3a3328" stroke-width="1.1" fill="#f6eddb"/>
<rect x="501.1" y="678.4" width="265.2" height="2.9" stroke="#222" stroke-width="1" fill="#fff"/>
<path d="M654,681.3 L657,683 L687,683 L689.8,681.3 M689.8,681.3 L692,683 L724,683 L726.7,681.3" stroke="#333" stroke-width="1" fill="none"/>
<line x1="467.5" y1="681.3" x2="501.1" y2="681.3" stroke="#222" stroke-width="1"/>
<line x1="498.2" y1="681.3" x2="766.3" y2="681.3" stroke="#3a3328" stroke-width="1.2"/>
<line x1="498.2" y1="683" x2="766.3" y2="683" stroke="#6a5f4c" stroke-width="1"/>
<line x1="498.2" y1="692.6" x2="766.3" y2="692.6" stroke="#4a4236" stroke-width="1.1"/>
<line x1="498.2" y1="708.6" x2="766.3" y2="708.6" stroke="#4a4236" stroke-width="1.1"/>
<line x1="498.2" y1="732.4" x2="766.3" y2="732.4" stroke="#4a4236" stroke-width="1.1"/>
<line x1="498.2" y1="747.8" x2="766.3" y2="747.8" stroke="#4a4236" stroke-width="1.1"/>
<line x1="498.2" y1="757" x2="766.3" y2="757" stroke="#3a3328" stroke-width="1.2"/>
<line x1="498.2" y1="759.3" x2="766.3" y2="759.3" stroke="#3a3328" stroke-width="1.2"/>
<line x1="498.2" y1="762.8" x2="766.3" y2="762.8" stroke="#6a5f4c" stroke-width="1"/>
<line x1="498.2" y1="765.8" x2="766.3" y2="765.8" stroke="#3a3328" stroke-width="1.2"/>
<line x1="498.2" y1="681.6" x2="498.2" y2="759.3" stroke="#3a3328" stroke-width="1.2"/>
<line x1="767" y1="679" x2="767" y2="766" stroke="#999" stroke-width="2.2"/>
<rect x="653.5" y="759.3" width="36.7" height="22.7" stroke="#555" stroke-width="1" fill="#f6eddb" stroke-dasharray="3,2"/>
<line x1="653.5" y1="757.7" x2="690.2" y2="757.7" stroke="#111" stroke-width="1.8"/>
<rect x="725.4" y="759.3" width="36.9" height="22.7" stroke="#555" stroke-width="1" fill="#f6eddb" stroke-dasharray="3,2"/>
<line x1="725.4" y1="757.7" x2="762.3" y2="757.7" stroke="#111" stroke-width="1.8"/>
<rect x="768.6" y="730.4" width="19.1" height="52" stroke="#555" stroke-width="1" fill="#f6eddb" stroke-dasharray="3,2"/>
<polyline points="787,735 780,735 780,755 787,755" stroke="#555" stroke-width="1.1" fill="none" stroke-dasharray="2,1.5" stroke-linejoin="round"/>
<line x1="768.6" y1="730.4" x2="768.6" y2="782.4" stroke="#222" stroke-width="1.5"/>
<rect x="787.7" y="758.6" width="8.7" height="22.6" stroke="#222" stroke-width="1.5" fill="#f6eddb" stroke-dasharray="2.5,1.5"/>
<rect x="796.4" y="762.6" width="16.8" height="14" stroke="#222" stroke-width="1.5" fill="#f6eddb" stroke-dasharray="2.5,1.5"/>
<line x1="775" y1="770" x2="818" y2="770" stroke="#666" stroke-width="0.9"/>
<rect x="483.4" y="765" width="15.3" height="14.2" stroke="#222" stroke-width="1.5" fill="#f6eddb" stroke-dasharray="2.5,1.5"/>
<rect x="498.7" y="760.3" width="7.9" height="22.8" stroke="#333" stroke-width="1.3" fill="#f6eddb"/>
<rect x="506.6" y="764.3" width="20.4" height="15.2" stroke="#222" stroke-width="1.5" fill="#f6eddb" stroke-dasharray="2.5,1.5"/>
<line x1="476" y1="772" x2="535" y2="772" stroke="#666" stroke-width="0.9"/>
<line x1="470" y1="720.3" x2="620" y2="720.3" stroke="#6a6050" stroke-width="1" stroke-dasharray="60,3,5,3"/>
<line x1="630" y1="720.3" x2="777.2" y2="720.3" stroke="#8a8070" stroke-width="1" stroke-dasharray="12,3,5,3"/>
<circle cx="512.7" cy="700.7" r="3.6" stroke="#222" stroke-width="1.6" fill="none"/>
<line x1="505.7" y1="700.7" x2="519.7" y2="700.7" stroke="#777" stroke-width="0.8"/>
<line x1="512.7" y1="694.7" x2="512.7" y2="706.7" stroke="#555" stroke-width="0.8"/>
<circle cx="512.7" cy="720.1" r="3.6" stroke="#888" stroke-width="1" fill="none"/>
<line x1="505.7" y1="720.1" x2="519.7" y2="720.1" stroke="#777" stroke-width="0.8"/>
<line x1="512.7" y1="714.1" x2="512.7" y2="726.1" stroke="#555" stroke-width="0.8"/>
<circle cx="512.7" cy="739.6" r="3.6" stroke="#222" stroke-width="1.6" fill="none"/>
<line x1="505.7" y1="739.6" x2="519.7" y2="739.6" stroke="#777" stroke-width="0.8"/>
<line x1="512.7" y1="733.6" x2="512.7" y2="745.6" stroke="#555" stroke-width="0.8"/>
<circle cx="535" cy="720.1" r="8.7" stroke="#1a1a1a" stroke-width="1.6" fill="none"/>
<circle cx="535" cy="720.1" r="4" stroke="#555" stroke-width="1" fill="none"/>
<line x1="532.5" y1="720.1" x2="537.5" y2="720.1" stroke="#444" stroke-width="0.8"/>
<line x1="535" y1="709.4" x2="535" y2="730.8" stroke="#555" stroke-width="0.8"/>
<circle cx="606.1" cy="720.1" r="8.7" stroke="#1a1a1a" stroke-width="1.6" fill="none"/>
<circle cx="606.1" cy="720.1" r="4" stroke="#555" stroke-width="1" fill="none"/>
<line x1="603.6" y1="720.1" x2="608.6" y2="720.1" stroke="#444" stroke-width="0.8"/>
<line x1="606.1" y1="709.4" x2="606.1" y2="730.8" stroke="#555" stroke-width="0.8"/>
<circle cx="677.1" cy="720.5" r="8.7" stroke="#1a1a1a" stroke-width="1.6" fill="none"/>
<circle cx="677.1" cy="720.5" r="4" stroke="#555" stroke-width="1" fill="none"/>
<line x1="674.6" y1="720.5" x2="679.6" y2="720.5" stroke="#444" stroke-width="0.8"/>
<line x1="677.1" y1="709.8" x2="677.1" y2="731.2" stroke="#555" stroke-width="0.8"/>
<circle cx="748.6" cy="720.5" r="8.7" stroke="#1a1a1a" stroke-width="1.6" fill="none"/>
<circle cx="748.6" cy="720.5" r="4" stroke="#555" stroke-width="1" fill="none"/>
<line x1="746.1" y1="720.5" x2="751.1" y2="720.5" stroke="#444" stroke-width="0.8"/>
<line x1="748.6" y1="709.8" x2="748.6" y2="731.2" stroke="#555" stroke-width="0.8"/>
<circle cx="625.6" cy="700.7" r="3.6" stroke="#222" stroke-width="1.6" fill="none"/>
<line x1="618.6" y1="700.7" x2="632.6" y2="700.7" stroke="#777" stroke-width="0.8"/>
<line x1="625.6" y1="694.7" x2="625.6" y2="706.7" stroke="#555" stroke-width="0.8"/>
<circle cx="625.6" cy="739.6" r="3.6" stroke="#222" stroke-width="1.6" fill="none"/>
<line x1="618.6" y1="739.6" x2="632.6" y2="739.6" stroke="#777" stroke-width="0.8"/>
<line x1="625.6" y1="733.6" x2="625.6" y2="745.6" stroke="#555" stroke-width="0.8"/>
<circle cx="738.5" cy="700.7" r="3.6" stroke="#222" stroke-width="1.6" fill="none"/>
<line x1="731.5" y1="700.7" x2="745.5" y2="700.7" stroke="#777" stroke-width="0.8"/>
<line x1="738.5" y1="694.7" x2="738.5" y2="706.7" stroke="#555" stroke-width="0.8"/>
<circle cx="738.5" cy="739.9" r="3.6" stroke="#222" stroke-width="1.6" fill="none"/>
<line x1="731.5" y1="739.9" x2="745.5" y2="739.9" stroke="#777" stroke-width="0.8"/>
<line x1="738.5" y1="733.9" x2="738.5" y2="745.9" stroke="#555" stroke-width="0.8"/>
<path d="M625.6,716 L701,716 M625.6,724.6 L701,724.6" stroke="#3a3328" stroke-width="1.1" fill="none"/>
<path d="M625.6,716 A4.3,4.3 0 0 0 625.6,724.6" stroke="#222" stroke-width="1.3" fill="none"/>
<line x1="620.6" y1="720" x2="620.6" y2="797" stroke="#222" stroke-width="1"/>
<line x1="630.5" y1="720" x2="630.5" y2="797" stroke="#222" stroke-width="1"/>
<line x1="697.4" y1="701.9" x2="697.4" y2="738.9" stroke="#111" stroke-width="1.3"/>
<polygon points="697.4,716.5 695.2,709.5 699.6,709.5" fill="#1a1a1a"/>
<polygon points="697.4,724.5 699.6,731.5 695.2,731.5" fill="#1a1a1a"/>
<line x1="706" y1="744.4" x2="706" y2="793" stroke="#111" stroke-width="1.2"/>
<polygon points="706,757.2 703.8,750.2 708.2,750.2" fill="#1a1a1a"/>
<polygon points="706,765.6 708.2,772.6 703.8,772.6" fill="#1a1a1a"/>
<text transform="translate(702.2,794.4) rotate(-90)" x="0" y="0" font-size="17" fill="#424242" textLength="21" lengthAdjust="spacingAndGlyphs">0.7</text>
<line x1="690" y1="795.5" x2="706" y2="795.5" stroke="#333" stroke-width="1"/>
<line x1="597.2" y1="792.7" x2="650" y2="792.7" stroke="#111" stroke-width="1"/>
<polygon points="620.6,792.7 613.6,794.9 613.6,790.5" fill="#1a1a1a"/>
<polygon points="630.5,792.7 637.5,790.5 637.5,794.9" fill="#1a1a1a"/>
<text x="600.8" y="788.6" font-size="17" fill="#424242" text-anchor="start" textLength="8" lengthAdjust="spacingAndGlyphs">4</text>
<line x1="483.8" y1="626.2" x2="737.8" y2="626.2" stroke="#111" stroke-width="1"/>
<polygon points="483.8,626.2 491.8,623.8 491.8,628.6" fill="#1a1a1a"/>
<polygon points="513.2,626.2 505.2,628.6 505.2,623.8" fill="#1a1a1a"/>
<polygon points="513.4,626.2 521.4,623.8 521.4,628.6" fill="#1a1a1a"/>
<polygon points="737.8,626.2 729.3,628.6 729.3,623.8" fill="#1a1a1a"/>
<text x="490.4" y="618.7" font-size="17" fill="#424242" text-anchor="start" textLength="16.8" lengthAdjust="spacingAndGlyphs">12</text>
<text x="592" y="618.7" font-size="17" fill="#424242" text-anchor="start" textLength="70" lengthAdjust="spacingAndGlyphs">(N/2-1)xF</text>
<line x1="513.2" y1="650.4" x2="625.3" y2="650.4" stroke="#111" stroke-width="1"/>
<polygon points="513.2,650.4 521.7,648 521.7,652.8" fill="#1a1a1a"/>
<polygon points="625.3,650.4 616.8,652.8 616.8,648" fill="#1a1a1a"/>
<text x="567.6" y="647.4" font-size="17" fill="#424242" text-anchor="start" textLength="7.5" lengthAdjust="spacingAndGlyphs">F</text>
<line x1="483.8" y1="622" x2="483.8" y2="681.3" stroke="#222" stroke-width="1"/>
<line x1="513.2" y1="621.6" x2="513.2" y2="697" stroke="#222" stroke-width="1"/>
<line x1="625.3" y1="646.4" x2="625.3" y2="697" stroke="#222" stroke-width="1"/>
<line x1="737.8" y1="622" x2="737.8" y2="697" stroke="#222" stroke-width="1"/>
<line x1="472" y1="681.7" x2="472" y2="720.3" stroke="#1a1a1a" stroke-width="1"/>
<polygon points="472,681.7 474.4,690.2 469.6,690.2" fill="#1a1a1a"/>
<polygon points="472,720.3 469.6,711.8 474.4,711.8" fill="#1a1a1a"/>
<text transform="translate(469.3,708.8) rotate(-90)" x="0" y="0" font-size="17" fill="#424242" textLength="17" lengthAdjust="spacingAndGlyphs">16</text>
<text transform="translate(762.8,668.1) rotate(-90)" x="0" y="0" font-size="19" fill="#424242" textLength="12.5" lengthAdjust="spacingAndGlyphs">3</text>
<text transform="translate(755.5,653.3) rotate(-90)" x="0" y="0" font-size="12" fill="#424242" textLength="25.7" lengthAdjust="spacingAndGlyphs">+0.03</text>
<text transform="translate(762.6,648.4) rotate(-90)" x="0" y="0" font-size="12" fill="#424242" textLength="7.6" lengthAdjust="spacingAndGlyphs">0</text>
<text transform="translate(763,622.9) rotate(-90)" x="0" y="0" font-size="18.5" fill="#424242" textLength="57.2" lengthAdjust="spacingAndGlyphs">depth 3</text>
<line x1="768.9" y1="588.9" x2="768.9" y2="675.6" stroke="#333" stroke-width="1"/>
<line x1="768.9" y1="675.6" x2="699.6" y2="718.6" stroke="#222" stroke-width="1"/>
<polygon points="698.8,719 704.69,712.38 707.34,716.62" fill="#1a1a1a"/>
<line x1="766.3" y1="678.4" x2="894.4" y2="678.4" stroke="#111" stroke-width="1.1"/>
<line x1="766.3" y1="682.2" x2="870" y2="682.2" stroke="#111" stroke-width="1.1"/>
<line x1="745" y1="700.6" x2="845.6" y2="700.6" stroke="#111" stroke-width="1.1"/>
<line x1="745" y1="739.8" x2="845.6" y2="739.8" stroke="#111" stroke-width="1.1"/>
<line x1="766.3" y1="759.2" x2="870" y2="759.2" stroke="#111" stroke-width="1.1"/>
<line x1="765" y1="766.5" x2="894.4" y2="766.5" stroke="#111" stroke-width="1.1"/>
<line x1="866.7" y1="653.3" x2="866.7" y2="759.2" stroke="#111" stroke-width="1"/>
<polygon points="866.7,678.2 864.5,671.2 868.9,671.2" fill="#1a1a1a"/>
<polygon points="866.7,682.5 868.9,689.5 864.5,689.5" fill="#1a1a1a"/>
<polygon points="866.7,759 864.3,750.5 869.1,750.5" fill="#1a1a1a"/>
<text transform="translate(862.2,664.6) rotate(-90)" x="0" y="0" font-size="17" fill="#424242" textLength="6.5" lengthAdjust="spacingAndGlyphs">1</text>
<line x1="842.2" y1="700.8" x2="842.2" y2="739.6" stroke="#1a1a1a" stroke-width="1"/>
<polygon points="842.2,700.8 844.6,709.3 839.8,709.3" fill="#1a1a1a"/>
<polygon points="842.2,739.6 839.8,731.1 844.6,731.1" fill="#1a1a1a"/>
<text transform="translate(837.8,726.7) rotate(-90)" x="0" y="0" font-size="17" fill="#424242" textLength="17" lengthAdjust="spacingAndGlyphs">16</text>
<text transform="translate(863.3,726.7) rotate(-90)" x="0" y="0" font-size="17" fill="#424242" textLength="17" lengthAdjust="spacingAndGlyphs">32</text>
<line x1="891.1" y1="678.8" x2="891.1" y2="766.3" stroke="#1a1a1a" stroke-width="1"/>
<polygon points="891.1,678.8 893.5,687.3 888.7,687.3" fill="#1a1a1a"/>
<polygon points="891.1,766.3 888.7,757.8 893.5,757.8" fill="#1a1a1a"/>
<text transform="translate(887.8,726.7) rotate(-90)" x="0" y="0" font-size="17" fill="#424242" textLength="17" lengthAdjust="spacingAndGlyphs">36</text>
<line x1="517.1" y1="783" x2="541.6" y2="827.2" stroke="#222" stroke-width="1"/>
<polygon points="516.8,782.2 523.15,788.38 518.79,790.83" fill="#1a1a1a"/>
<line x1="541.6" y1="827.2" x2="422" y2="827.2" stroke="#333" stroke-width="1"/>
<text x="279.8" y="821.6" font-size="17" fill="#424242" text-anchor="start" textLength="243" lengthAdjust="spacingAndGlyphs">stroke adjuster at extension end</text>
<line x1="516.2" y1="726.4" x2="575.5" y2="828.2" stroke="#222" stroke-width="1"/>
<polygon points="515.8,725.7 522.23,731.79 517.91,734.3" fill="#1a1a1a"/>
<line x1="575.5" y1="828.2" x2="665.1" y2="828.2" stroke="#333" stroke-width="1"/>
<text x="581.2" y="821.6" font-size="17" fill="#424242" text-anchor="start" textLength="23.5" lengthAdjust="spacingAndGlyphs">∅3</text>
<text x="609.5" y="812.5" font-size="12" fill="#424242" text-anchor="start" textLength="25.5" lengthAdjust="spacingAndGlyphs">+0.03</text>
<text x="615" y="824.4" font-size="12" fill="#424242" text-anchor="start" textLength="6" lengthAdjust="spacingAndGlyphs">0</text>
<text x="637.8" y="821.6" font-size="17" fill="#424242" text-anchor="start" textLength="56.5" lengthAdjust="spacingAndGlyphs">depth 3</text>
<line x1="736.7" y1="742.2" x2="695.6" y2="828.9" stroke="#222" stroke-width="1"/>
<polygon points="737.3,741 735.89,749.75 731.38,747.59" fill="#1a1a1a"/>
<line x1="695.6" y1="828.9" x2="847.8" y2="828.9" stroke="#333" stroke-width="1"/>
<text x="711.1" y="822.2" font-size="17" fill="#424242" text-anchor="start" textLength="78.9" lengthAdjust="spacingAndGlyphs">Nx M3x 0.5</text>
<text x="799.6" y="822.2" font-size="17" fill="#424242" text-anchor="start" textLength="111.5" lengthAdjust="spacingAndGlyphs">thread depth 5</text>
<line x1="781.3" y1="767.6" x2="802.2" y2="802.2" stroke="#222" stroke-width="1"/>
<polygon points="781.3,767.6 787.87,773.55 783.6,776.16" fill="#1a1a1a"/>
<line x1="802.2" y1="802.2" x2="903.3" y2="802.2" stroke="#333" stroke-width="1"/>
<text x="943" y="658.8" font-size="17" fill="#424242" text-anchor="start" textLength="13" lengthAdjust="spacingAndGlyphs">∅</text>
<text x="957" y="658.8" font-size="17" fill="#424242" text-anchor="start" textLength="30" lengthAdjust="spacingAndGlyphs">3H9</text>
<text x="999" y="650.5" font-size="12" fill="#424242" text-anchor="start" textLength="31" lengthAdjust="spacingAndGlyphs">+0.025</text>
<text x="1003.8" y="662.4" font-size="12" fill="#424242" text-anchor="start" textLength="5.5" lengthAdjust="spacingAndGlyphs">0</text>
<text x="1031.2" y="658.8" font-size="17" fill="#424242" text-anchor="start" textLength="57" lengthAdjust="spacingAndGlyphs">depth 3</text>
<line x1="956.7" y1="666.7" x2="1055" y2="666.7" stroke="#333" stroke-width="1"/>
<rect x="1039.4" y="714.4" width="16.1" height="72.2" stroke="#4a4236" stroke-width="1.1" fill="#f6eddb"/>
<line x1="1052.8" y1="714.4" x2="1052.8" y2="786.6" stroke="#4a4236" stroke-width="1"/>
<path d="M1055.5,710.3 L1075.5,710.3 L1075.5,708.3 L1298.1,708.3 L1298.1,788.8 L1055.5,788.8 Z" stroke="#3a3328" stroke-width="1.1" fill="#f6eddb"/>
<line x1="1009.8" y1="708.3" x2="1060.7" y2="708.3" stroke="#222" stroke-width="1.1"/>
<line x1="1009.8" y1="710.3" x2="1055.5" y2="710.3" stroke="#333" stroke-width="1"/>
<line x1="1075.5" y1="708.3" x2="1298.1" y2="708.3" stroke="#1a1a1a" stroke-width="1.4"/>
<line x1="1090" y1="719.8" x2="1298.1" y2="719.8" stroke="#6a5f4c" stroke-width="1.1"/>
<line x1="1055.5" y1="725.2" x2="1298.1" y2="725.2" stroke="#4a4236" stroke-width="1.1"/>
<line x1="1055.5" y1="739.6" x2="1298.1" y2="739.6" stroke="#4a4236" stroke-width="1.1"/>
<line x1="1055.5" y1="762" x2="1298.1" y2="762" stroke="#4a4236" stroke-width="1.1"/>
<line x1="1055.5" y1="776.8" x2="1298.1" y2="776.8" stroke="#4a4236" stroke-width="1.1"/>
<rect x="1039.8" y="723.9" width="5.7" height="20.5" stroke="#1a1a1a" stroke-width="1.8" fill="#f3ebdd"/>
<rect x="1045.9" y="727" width="6.1" height="13.5" stroke="#333" stroke-width="1.2" fill="#f3ebdd"/>
<line x1="1030" y1="734.15" x2="1060" y2="734.15" stroke="#444" stroke-width="0.9"/>
<rect x="1039.8" y="757.4" width="5.7" height="20.5" stroke="#1a1a1a" stroke-width="1.8" fill="#f3ebdd"/>
<rect x="1045.9" y="760" width="6.1" height="14.8" stroke="#333" stroke-width="1.2" fill="#f3ebdd"/>
<line x1="1030" y1="767.65" x2="1060" y2="767.65" stroke="#444" stroke-width="0.9"/>
<line x1="1030" y1="751" x2="1330" y2="751" stroke="#333" stroke-width="1" stroke-dasharray="180,3,5,3"/>
<circle cx="1086" cy="719.3" r="4" stroke="#777" stroke-width="1.2" fill="none"/>
<circle cx="1069.4" cy="751" r="7.4" stroke="#1a1a1a" stroke-width="1.5" fill="none"/>
<circle cx="1069.4" cy="751" r="3.5" stroke="#555" stroke-width="1" fill="none"/>
<line x1="1067.2" y1="751" x2="1071.6" y2="751" stroke="#444" stroke-width="0.8"/>
<line x1="1069.4" y1="741.6" x2="1069.4" y2="760.4" stroke="#555" stroke-width="0.8"/>
<circle cx="1086" cy="751" r="4.5" stroke="#222" stroke-width="1.6" fill="none"/>
<circle cx="1102.9" cy="751" r="7.4" stroke="#1a1a1a" stroke-width="1.5" fill="none"/>
<circle cx="1102.9" cy="751" r="3.5" stroke="#555" stroke-width="1" fill="none"/>
<line x1="1100.7" y1="751" x2="1105.1" y2="751" stroke="#444" stroke-width="0.8"/>
<line x1="1102.9" y1="741.6" x2="1102.9" y2="760.4" stroke="#555" stroke-width="0.8"/>
<circle cx="1133.8" cy="751" r="7.4" stroke="#1a1a1a" stroke-width="1.5" fill="none"/>
<circle cx="1133.8" cy="751" r="3.5" stroke="#555" stroke-width="1" fill="none"/>
<line x1="1131.6" y1="751" x2="1136" y2="751" stroke="#444" stroke-width="0.8"/>
<line x1="1133.8" y1="741.6" x2="1133.8" y2="760.4" stroke="#555" stroke-width="0.8"/>
<circle cx="1149.8" cy="751" r="4" stroke="#222" stroke-width="1.5" fill="none"/>
<circle cx="1167.1" cy="751" r="7" stroke="#1a1a1a" stroke-width="1.5" fill="none"/>
<circle cx="1167.1" cy="751" r="3.5" stroke="#555" stroke-width="1" fill="none"/>
<line x1="1164.9" y1="751" x2="1169.3" y2="751" stroke="#444" stroke-width="0.8"/>
<line x1="1167.1" y1="742" x2="1167.1" y2="760" stroke="#555" stroke-width="0.8"/>
<circle cx="1216" cy="751" r="4.5" stroke="#1a1a1a" stroke-width="1.6" fill="none"/>
<circle cx="1280.7" cy="751" r="4.5" stroke="#1a1a1a" stroke-width="1.6" fill="none"/>
<path d="M1211.7,719 L1211.7,682.6 M1220,719 L1220,682.6" stroke="#333" stroke-width="1" fill="none"/>
<circle cx="1216" cy="719" r="4.2" stroke="#333" stroke-width="1.2" fill="none"/>
<line x1="1216" y1="723" x2="1298" y2="723" stroke="#555" stroke-width="0.9"/>
<line x1="1086" y1="661.2" x2="1086" y2="700" stroke="#222" stroke-width="1"/>
<line x1="1086" y1="700" x2="1086" y2="849.3" stroke="#222" stroke-width="1"/>
<line x1="1086" y1="691" x2="1107.4" y2="691" stroke="#222" stroke-width="1"/>
<polygon points="1086,691 1094,688.7 1094,693.3" fill="#1a1a1a"/>
<text x="1095.5" y="689.8" font-size="15" fill="#424242" text-anchor="start" textLength="12" lengthAdjust="spacingAndGlyphs">A</text>
<line x1="1086" y1="808.1" x2="1107.4" y2="808.1" stroke="#222" stroke-width="1"/>
<polygon points="1086,808.1 1094,805.8 1094,810.4" fill="#1a1a1a"/>
<text x="1095.5" y="805.2" font-size="15" fill="#424242" text-anchor="start" textLength="12" lengthAdjust="spacingAndGlyphs">A</text>
<line x1="1280.7" y1="686.2" x2="1298" y2="691" stroke="none" stroke-width="0"/>
<line x1="1280.7" y1="686.2" x2="1280.7" y2="849.3" stroke="#222" stroke-width="1"/>
<line x1="1298.1" y1="664" x2="1298.1" y2="849.3" stroke="#222" stroke-width="1"/>
<line x1="1280.7" y1="691" x2="1298" y2="691" stroke="#222" stroke-width="1"/>
<polygon points="1280.7,691 1287.7,688.8 1287.7,693.2" fill="#1a1a1a"/>
<text x="1285.5" y="686.2" font-size="15" fill="#424242" text-anchor="start" textLength="10" lengthAdjust="spacingAndGlyphs">B</text>
<line x1="1280.7" y1="808.1" x2="1298" y2="808.1" stroke="#222" stroke-width="1"/>
<polygon points="1280.7,808.1 1287.7,805.9 1287.7,810.3" fill="#1a1a1a"/>
<text x="1285.5" y="825.5" font-size="15" fill="#424242" text-anchor="start" textLength="10" lengthAdjust="spacingAndGlyphs">B</text>
<text x="1285.5" y="843.3" font-size="15" fill="#424242" text-anchor="start" textLength="10" lengthAdjust="spacingAndGlyphs">G</text>
<line x1="1086" y1="664.3" x2="1298.1" y2="664.3" stroke="#111" stroke-width="1"/>
<polygon points="1086,664.3 1094.5,661.9 1094.5,666.7" fill="#1a1a1a"/>
<polygon points="1216,664.3 1209,666.7 1209,661.9" fill="#1a1a1a"/>
<polygon points="1216,664.3 1223,661.9 1223,666.7" fill="#1a1a1a"/>
<polygon points="1298.1,664.3 1289.6,666.7 1289.6,661.9" fill="#1a1a1a"/>
<line x1="1216" y1="660" x2="1216" y2="682" stroke="#222" stroke-width="1"/>
<text x="1145" y="661.9" font-size="17" fill="#424242" text-anchor="start" textLength="21.5" lengthAdjust="spacingAndGlyphs">HA</text>
<text x="1245.7" y="661.9" font-size="17" fill="#424242" text-anchor="start" textLength="20" lengthAdjust="spacingAndGlyphs">GA</text>
<line x1="1196.2" y1="682.1" x2="1243.8" y2="682.1" stroke="#111" stroke-width="1"/>
<polygon points="1211.7,682.1 1204.7,684.3 1204.7,679.9" fill="#1a1a1a"/>
<polygon points="1220,682.1 1227,679.9 1227,684.3" fill="#1a1a1a"/>
<text x="1230" y="680.2" font-size="17" fill="#424242" text-anchor="start" textLength="9" lengthAdjust="spacingAndGlyphs">4</text>
<line x1="1009.8" y1="710.5" x2="1055" y2="710.5" stroke="#222" stroke-width="1"/>
<line x1="1012.1" y1="695.7" x2="1012.1" y2="731.4" stroke="#111" stroke-width="1"/>
<polygon points="1012.1,708.6 1009.9,701.6 1014.3,701.6" fill="#1a1a1a"/>
<polygon points="1012.1,710.7 1014.3,717.7 1009.9,717.7" fill="#1a1a1a"/>
<text transform="translate(1007.4,726.7) rotate(-90)" x="0" y="0" font-size="17" fill="#424242" textLength="6" lengthAdjust="spacingAndGlyphs">1</text>
<line x1="1289.5" y1="701.7" x2="1289.5" y2="738.6" stroke="#111" stroke-width="1"/>
<polygon points="1289.5,709 1287.3,702 1291.7,702" fill="#1a1a1a"/>
<polygon points="1289.5,716 1291.7,723 1287.3,723" fill="#1a1a1a"/>
<line x1="1298" y1="720.7" x2="1328.3" y2="720.7" stroke="#222" stroke-width="1"/>
<line x1="1298" y1="751" x2="1328.3" y2="751" stroke="#222" stroke-width="1"/>
<line x1="1323.6" y1="721" x2="1323.6" y2="750.8" stroke="#1a1a1a" stroke-width="1"/>
<polygon points="1323.6,721 1326,729.5 1321.2,729.5" fill="#1a1a1a"/>
<polygon points="1323.6,750.8 1321.2,742.3 1326,742.3" fill="#1a1a1a"/>
<text transform="translate(1318.8,743.3) rotate(-90)" x="0" y="0" font-size="17" fill="#424242" textLength="15.5" lengthAdjust="spacingAndGlyphs">14</text>
<text transform="translate(1324.4,690.6) rotate(-90)" x="0" y="0" font-size="18.5" fill="#424242" textLength="31.7" lengthAdjust="spacingAndGlyphs">3H9</text>
<text transform="translate(1315.6,658.9) rotate(-90)" x="0" y="0" font-size="12" fill="#424242" textLength="32.2" lengthAdjust="spacingAndGlyphs">+0.025</text>
<text transform="translate(1324.4,653.2) rotate(-90)" x="0" y="0" font-size="12" fill="#424242" textLength="5.4" lengthAdjust="spacingAndGlyphs">0</text>
<text transform="translate(1324.6,622.2) rotate(-90)" x="0" y="0" font-size="18.5" fill="#424242" textLength="55.5" lengthAdjust="spacingAndGlyphs">depth 3</text>
<line x1="1331.1" y1="604.4" x2="1331.1" y2="694.4" stroke="#333" stroke-width="1"/>
<line x1="1331.1" y1="694.4" x2="1291.9" y2="717.6" stroke="#222" stroke-width="1"/>
<polygon points="1291,718.1 1296.92,712.25 1299.12,716.29" fill="#1a1a1a"/>
<line x1="1216" y1="751" x2="1216" y2="826.7" stroke="#222" stroke-width="1"/>
<line x1="1216" y1="823.8" x2="1280.7" y2="823.8" stroke="#1a1a1a" stroke-width="1"/>
<polygon points="1216,823.8 1224.5,821.4 1224.5,826.2" fill="#1a1a1a"/>
<polygon points="1280.7,823.8 1272.2,826.2 1272.2,821.4" fill="#1a1a1a"/>
<text x="1243.3" y="819.5" font-size="17" fill="#424242" text-anchor="start" textLength="9.5" lengthAdjust="spacingAndGlyphs">H</text>
<line x1="1086" y1="846.9" x2="1315.2" y2="846.9" stroke="#111" stroke-width="1"/>
<polygon points="1086,846.9 1094.5,844.5 1094.5,849.3" fill="#1a1a1a"/>
<polygon points="1280.7,846.9 1272.2,849.3 1272.2,844.5" fill="#1a1a1a"/>
<polygon points="1298.1,846.9 1306.6,844.5 1306.6,849.3" fill="#1a1a1a"/>
<text x="1155.2" y="842.1" font-size="17" fill="#424242" text-anchor="start" textLength="75.5" lengthAdjust="spacingAndGlyphs">(NN - 1)xH</text>
<line x1="1055" y1="666.7" x2="1082.4" y2="716" stroke="#222" stroke-width="1"/>
<polygon points="1083,717 1076.65,710.82 1081.01,708.37" fill="#1a1a1a"/>
<rect x="154.4" y="1022.3" width="17.4" height="60.9" stroke="#4a4236" stroke-width="1.1" fill="#f6eddb"/>
<rect x="156" y="1027.4" width="15.8" height="16" stroke="#222" stroke-width="1.4" fill="none" stroke-dasharray="3,1.5"/>
<rect x="171.1" y="1021.3" width="310" height="26.5" stroke="#3a3328" stroke-width="1.1" fill="#f6eddb"/>
<line x1="171.1" y1="1023.9" x2="481.1" y2="1023.9" stroke="#6a5f4c" stroke-width="1.2"/>
<line x1="171.1" y1="1044.8" x2="481.1" y2="1044.8" stroke="#2a2520" stroke-width="1.6"/>
<line x1="171.1" y1="1047.8" x2="483.3" y2="1047.8" stroke="#3a3328" stroke-width="1.2"/>
<rect x="175.5" y="1048" width="307.8" height="38.9" stroke="#3a3328" stroke-width="1.1" fill="#f6eddb"/>
<line x1="201.6" y1="1052" x2="483.3" y2="1052" stroke="#4a4236" stroke-width="1.2"/>
<line x1="181.3" y1="1048" x2="181.3" y2="1087" stroke="#333" stroke-width="1"/>
<rect x="171.1" y="1021.3" width="10.2" height="23.5" stroke="#333" stroke-width="1" fill="#f6eddb" stroke-dasharray="3,1.5"/>
<rect x="181.3" y="1027" width="21" height="16" stroke="#222" stroke-width="1.4" fill="none" stroke-dasharray="3,1.5"/>
<line x1="148" y1="1036" x2="215" y2="1036" stroke="#555" stroke-width="0.9"/>
<rect x="181.3" y="1048" width="20.3" height="39" stroke="#444" stroke-width="1" fill="#ebe1cd"/>
<rect x="182.3" y="1049" width="18.3" height="37" fill="#ece3d0"/>
<path d="M186.82,1068.22L187.54,1069.87M192.26,1071.72L194.02,1072.08M182.9,1078.66L184.13,1079.97M187.04,1083.95L187.2,1085.74M197.32,1065.86L196.55,1067.49M186.58,1071.86L184.93,1072.58M192.29,1075.17L191.37,1076.72M184.6,1075.67L184.09,1077.4M189.03,1050.72L187.39,1051.45M191.84,1074.82L190.17,1075.49M194.65,1081.39L195.23,1083.09M197.24,1065.38L195.47,1065.74M196.81,1053.04L198.44,1053.78M186.66,1082.91L187.02,1084.67M193.53,1059.64L193.49,1061.44M189.83,1061.41L189.35,1063.15M193.31,1080.89L192.34,1082.4M199.34,1079.95L197.54,1080M195.06,1055.33L193.43,1056.09M199.22,1080.79L198.83,1082.54M195.71,1056.94L194.16,1057.84M191.77,1059.8L193.53,1060.15M196.35,1084.4L198.08,1084.89M195.55,1063.96L197.15,1064.78M188.92,1076.56L187.26,1077.26M183.13,1071.38L184.91,1071.64M195.85,1061.25L194.17,1061.91M200.18,1067.69L198.38,1067.69M188.63,1051.84L188.07,1053.55M183.55,1056.05L184.07,1057.77M192.36,1055.35L194.14,1055.59M198.34,1060.87L196.55,1061.1M197.8,1062.33L198.03,1064.12M192.04,1071.68L191.51,1073.4M193.3,1071.54L191.53,1071.87M192.14,1064.4L190.99,1065.78M188.07,1060.48L186.28,1060.6M190.89,1069.16L192.69,1069.23M189.17,1070.24L190.97,1070.36M192.45,1071.96L194.22,1072.3M194.01,1065.56L193.05,1067.08M189.66,1074.08L188.43,1075.4M184.13,1051.35L183.19,1052.89M198.88,1057.9L199.13,1059.68M192.59,1060.38L193.33,1062.02" stroke="#4a4236" stroke-width="1" fill="none"/>
<circle cx="191.4" cy="1057.1" r="4.2" stroke="#1a1a1a" stroke-width="1.9" fill="none"/>
<line x1="189" y1="1057.1" x2="194" y2="1057.1" stroke="#444" stroke-width="0.8"/>
<line x1="191.4" y1="1054.6" x2="191.4" y2="1059.6" stroke="#444" stroke-width="0.8"/>
<circle cx="191.4" cy="1075.7" r="4.2" stroke="#1a1a1a" stroke-width="1.9" fill="none"/>
<line x1="189" y1="1075.7" x2="194" y2="1075.7" stroke="#444" stroke-width="0.8"/>
<line x1="191.4" y1="1073.2" x2="191.4" y2="1078.2" stroke="#444" stroke-width="0.8"/>
<line x1="168" y1="1068.5" x2="180" y2="1068.5" stroke="#333" stroke-width="1"/>
<circle cx="225.5" cy="1068.4" r="6.2" stroke="#1a1a1a" stroke-width="1.9" fill="none"/>
<line x1="214" y1="1068.4" x2="237" y2="1068.4" stroke="#333" stroke-width="0.9"/>
<line x1="225.5" y1="1058" x2="225.5" y2="1075" stroke="#333" stroke-width="0.9"/>
<rect x="351.8" y="1022.5" width="41.6" height="24.7" stroke="#333" stroke-width="1.2" fill="#ebe1cd"/>
<rect x="352.8" y="1023.5" width="39.6" height="22.7" fill="#ece3d0"/>
<path d="M385.63,1035.74L386.48,1037.09M363.54,1044.53L364.49,1045.81M370.9,1028.24L371.06,1029.83M362.88,1039.09L362.1,1040.49M386.78,1039.64L385.2,1039.9M383.18,1031.41L381.64,1031.84M371.11,1026.26L372.7,1026.42M370.2,1028.1L370.2,1029.7M363.82,1027.09L364.14,1028.66M389.74,1028.1L389.14,1029.59M383.58,1029.84L383.23,1031.4M389,1032.04L387.41,1032.14M390.24,1027.45L391.53,1028.41M387.89,1027.35L389.3,1028.1M355.59,1035.42L356.73,1036.54M372.04,1032.22L370.59,1032.88M384.56,1025.16L385.97,1025.92M380.29,1029.31L381.21,1030.62M374.11,1038.48L372.72,1039.27M390.82,1028.11L389.29,1028.59M391.51,1035.47L390.18,1036.36M378.35,1037.23L379.83,1037.84M365.43,1028.12L365.94,1029.63M364.33,1034.2L365.24,1035.52M354.94,1035.74L353.35,1035.92M363.86,1025.23L362.34,1025.7M370.5,1033.41L371.79,1034.36M388.38,1041.03L386.87,1041.57M383.52,1028.47L384.22,1029.92M355.82,1038.42L355.7,1040.01M377.14,1035.16L375.89,1036.15M374.95,1040.86L374.29,1042.32M359.83,1032.32L358.23,1032.48M359.93,1044.49L361.15,1045.52M363.41,1031.07L363.01,1032.62M371.39,1041.75L371.68,1043.32M362.15,1044.33L360.58,1044.64M355.84,1027.13L356.6,1028.54M358.73,1043.13L359.59,1044.48M385.42,1042.71L386.35,1044.01M354.89,1043.27L353.87,1044.5M376.17,1041.25L377.76,1041.45M366.8,1043.46L368.19,1044.25M388.56,1032.87L386.96,1032.91M375.29,1029.5L373.78,1030.01M366.02,1033.62L365.91,1035.22M366.92,1027.51L367.66,1028.93M356.48,1032.46L355.03,1033.12M357.6,1034.07L359.1,1034.61M386.5,1023.93L386.46,1025.53M374.03,1025.08L375.57,1025.52M357.51,1039.46L358.98,1040.09M357.47,1044.27L356.28,1045.34M391.11,1025.26L390.2,1026.58M373.44,1042.58L372.59,1043.94M384.86,1038.11L386.23,1038.92M375.99,1029.78L376.83,1031.13M355.98,1035.56L357.42,1036.27M356.59,1026.51L357.4,1027.89M381.23,1041.1L382.77,1041.52M355.42,1041.13L355.42,1042.73M384.68,1044.43L385.8,1045.57M371.56,1031.69L370.87,1033.13M385.96,1027.23L387.52,1027.57M361.7,1033.07L362.14,1034.6M374.56,1032.67L373.63,1033.97M388.57,1026.33L387.51,1027.53M354.37,1037.21L355.28,1038.53M355.38,1040L354.82,1041.5M379.54,1031.26L378.02,1031.76" stroke="#4a4236" stroke-width="1" fill="none"/>
<circle cx="362.4" cy="1033.7" r="4.4" stroke="#111" stroke-width="1.9" fill="none"/>
<line x1="359.9" y1="1033.7" x2="364.9" y2="1033.7" stroke="#444" stroke-width="0.8"/>
<line x1="362.4" y1="1031.2" x2="362.4" y2="1036.2" stroke="#444" stroke-width="0.8"/>
<circle cx="382.2" cy="1033.7" r="4.4" stroke="#111" stroke-width="1.9" fill="none"/>
<line x1="379.7" y1="1033.7" x2="384.7" y2="1033.7" stroke="#444" stroke-width="0.8"/>
<line x1="382.2" y1="1031.2" x2="382.2" y2="1036.2" stroke="#444" stroke-width="0.8"/>
<line x1="351.8" y1="1033.7" x2="393.4" y2="1033.7" stroke="#555" stroke-width="0.8" stroke-dasharray="4,2"/>
<rect x="436.3" y="1022.5" width="41.8" height="24.7" stroke="#333" stroke-width="1.2" fill="#ebe1cd"/>
<rect x="437.3" y="1023.5" width="39.8" height="22.7" fill="#ece3d0"/>
<path d="M452.15,1040.09L453.35,1041.15M469.86,1028.79L469.14,1030.22M452.38,1035.67L451.17,1036.72M461.39,1033.67L462.98,1033.85M458.79,1024.25L457.41,1025.06M475.12,1033.7L475.08,1035.3M446.2,1038.18L444.61,1038.33M468.21,1033.72L468.88,1035.17M475.22,1042.55L476.77,1042.96M449.15,1033.01L447.97,1034.09M445.07,1035.14L444.62,1036.68M441.32,1033.34L442.21,1034.68M473.56,1029.21L472.06,1029.77M448.62,1032.11L447.11,1032.64M466.2,1037.97L465.39,1039.35M462.04,1035.63L463.55,1036.14M469.07,1036.36L469.12,1037.96M443.69,1027.84L442.1,1027.99M448.04,1034.35L449.17,1035.49M471.47,1032.89L472.33,1034.24M440.85,1044.04L439.98,1045.39M467.89,1038.95L469.43,1039.38M473.1,1024.51L473.83,1025.94M466.24,1041.78L467.82,1042.03M453.86,1043.55L453.87,1045.15M458.38,1032.38L458.21,1033.97M461.99,1029.3L463.45,1029.97M456.13,1042.38L457.17,1043.6M465.32,1038.54L466.39,1039.73M442.34,1040.31L443.94,1040.33M459.22,1043.02L457.8,1043.76M443.76,1043.68L444.66,1045M470.71,1042.34L471.23,1043.85M460.89,1027.98L460.51,1029.53M468.03,1033.31L467.14,1034.65M463.62,1043.11L463.6,1044.71M475.22,1036.3L474.35,1037.64M476.22,1041.22L475.83,1042.77M471.06,1035.23L472.65,1035.3M461.26,1029.8L460.01,1030.79M443.35,1037.28L444.91,1037.62M444.66,1027.8L445.05,1029.35M462.03,1025.79L460.44,1025.89M464.42,1032.3L466,1032.58M472.29,1028.28L472.23,1029.88M459.35,1027.45L458.59,1028.86M442.54,1031.28L441.02,1031.8M446.97,1038.99L447.62,1040.45M456.08,1035.19L457.23,1036.31M474.99,1027.51L476.4,1028.26M455.52,1042.27L454.1,1043.01M455.94,1034.17L457.09,1035.28M463.48,1043.81L464.86,1044.62M455.99,1026.37L454.45,1026.81M456.81,1028.3L455.34,1028.91M453.08,1028.08L453.69,1029.56M465.4,1035.27L465.19,1036.85M475.52,1027.28L474.12,1028.05M466.02,1037.91L467.29,1038.88M452.84,1031.84L451.25,1032.02M459.65,1034.4L459.43,1035.99M441.68,1027.75L441.56,1029.35M451.27,1029.47L452.85,1029.67M440.82,1033.04L439.39,1033.77M464.4,1037.14L463.43,1038.41M473.75,1030.32L475,1031.32M469.9,1037.8L470.29,1039.35M474.87,1033.85L473.76,1035M462.31,1033.94L463.71,1034.71M475.09,1025.29L476.55,1025.93" stroke="#4a4236" stroke-width="1" fill="none"/>
<circle cx="448.5" cy="1035.2" r="4.4" stroke="#111" stroke-width="1.9" fill="none"/>
<line x1="446" y1="1035.2" x2="451" y2="1035.2" stroke="#444" stroke-width="0.8"/>
<line x1="448.5" y1="1032.7" x2="448.5" y2="1037.7" stroke="#444" stroke-width="0.8"/>
<circle cx="469" cy="1035.2" r="4.4" stroke="#111" stroke-width="1.9" fill="none"/>
<line x1="466.5" y1="1035.2" x2="471.5" y2="1035.2" stroke="#444" stroke-width="0.8"/>
<line x1="469" y1="1032.7" x2="469" y2="1037.7" stroke="#444" stroke-width="0.8"/>
<line x1="436.3" y1="1035.2" x2="478.1" y2="1035.2" stroke="#555" stroke-width="0.8" stroke-dasharray="4,2"/>
<rect x="484.2" y="1022.8" width="22.6" height="64" stroke="#333" stroke-width="1.2" fill="#f6eddb" stroke-dasharray="3,2"/>
<line x1="484.2" y1="1022.8" x2="484.2" y2="1086.8" stroke="#333" stroke-width="1.3"/>
<line x1="506.8" y1="1025" x2="506.8" y2="1086.8" stroke="#222" stroke-width="1.4"/>
<line x1="484.2" y1="1028.5" x2="506.8" y2="1028.5" stroke="#333" stroke-width="1.2" stroke-dasharray="3,2"/>
<rect x="498.1" y="1049.8" width="8.7" height="16.5" stroke="#333" stroke-width="1.2" fill="none" stroke-dasharray="2,1.5"/>
<rect x="498.1" y="1069.4" width="8.7" height="16.1" stroke="#333" stroke-width="1.2" fill="none" stroke-dasharray="2,1.5"/>
<rect x="506.8" y="1025.4" width="9.6" height="22.6" stroke="#222" stroke-width="1.4" fill="#f6eddb" stroke-dasharray="2.5,1.5"/>
<rect x="516.4" y="1029.8" width="20.4" height="15.2" stroke="#222" stroke-width="1.5" fill="#f6eddb" stroke-dasharray="2.5,1.5"/>
<line x1="478" y1="1037.5" x2="545" y2="1037.5" stroke="#222" stroke-width="1"/>
<circle cx="447.2" cy="1068.3" r="6.4" stroke="#111" stroke-width="2" fill="none"/>
<line x1="432" y1="1068.3" x2="462" y2="1068.3" stroke="#333" stroke-width="0.9"/>
<line x1="447.2" y1="1058" x2="447.2" y2="1076" stroke="#333" stroke-width="0.9"/>
<line x1="118" y1="1056.8" x2="191.4" y2="1056.8" stroke="#1a1a1a" stroke-width="1.1"/>
<line x1="118" y1="1075.5" x2="191.4" y2="1075.5" stroke="#1a1a1a" stroke-width="1.1"/>
<line x1="118" y1="1087.1" x2="176" y2="1087.1" stroke="#1a1a1a" stroke-width="1.1"/>
<line x1="123.6" y1="1020.6" x2="123.6" y2="1112.6" stroke="#111" stroke-width="1.1"/>
<polygon points="123.6,1056.6 121.2,1048.1 126,1048.1" fill="#1a1a1a"/>
<polygon points="123.6,1087.3 126,1095.8 121.2,1095.8" fill="#1a1a1a"/>
<circle cx="123.6" cy="1075.5" r="2.6" stroke="none" stroke-width="0" fill="#111"/>
<text transform="translate(116.2,1045.4) rotate(-90)" x="0" y="0" font-size="17" fill="#424242" textLength="21" lengthAdjust="spacingAndGlyphs">6.5</text>
<text transform="translate(117.1,1110.6) rotate(-90)" x="0" y="0" font-size="17" fill="#424242" textLength="9" lengthAdjust="spacingAndGlyphs">4</text>
<line x1="175.9" y1="1087" x2="175.9" y2="1154.7" stroke="#333" stroke-width="1"/>
<line x1="181.8" y1="1087" x2="181.8" y2="1154.7" stroke="#222" stroke-width="1"/>
<line x1="191.4" y1="1080" x2="191.4" y2="1123.4" stroke="#222" stroke-width="1"/>
<line x1="201.3" y1="1087" x2="201.3" y2="1156.6" stroke="#222" stroke-width="1"/>
<line x1="140.6" y1="1119" x2="213.1" y2="1119" stroke="#111" stroke-width="1"/>
<polygon points="175.9,1119 168.9,1121.2 168.9,1116.8" fill="#1a1a1a"/>
<polygon points="191.4,1119 198.4,1116.8 198.4,1121.2" fill="#1a1a1a"/>
<text x="147.5" y="1116.5" font-size="17" fill="#424242" text-anchor="start" textLength="22.5" lengthAdjust="spacingAndGlyphs">3.5</text>
<line x1="146.5" y1="1149.8" x2="226.8" y2="1149.8" stroke="#111" stroke-width="1"/>
<polygon points="175.9,1149.8 168.9,1152 168.9,1147.6" fill="#1a1a1a"/>
<polygon points="201.3,1149.8 208.3,1147.6 208.3,1152" fill="#1a1a1a"/>
<circle cx="181.8" cy="1149.8" r="2.5" stroke="none" stroke-width="0" fill="#111"/>
<text x="154.3" y="1146.9" font-size="17" fill="#424242" text-anchor="start" textLength="8" lengthAdjust="spacingAndGlyphs">2</text>
<text x="188.6" y="1146.9" font-size="17" fill="#424242" text-anchor="start" textLength="7.5" lengthAdjust="spacingAndGlyphs">7</text>
<line x1="225.5" y1="1075" x2="225.5" y2="1123.4" stroke="#222" stroke-width="1"/>
<line x1="447.4" y1="1075" x2="447.4" y2="1125" stroke="#222" stroke-width="1"/>
<line x1="483.3" y1="1087" x2="483.3" y2="1125" stroke="#444" stroke-width="1"/>
<line x1="507" y1="1087" x2="507" y2="1125" stroke="#444" stroke-width="1"/>
<line x1="537.3" y1="1048" x2="537.3" y2="1125" stroke="#444" stroke-width="1"/>
<line x1="225.5" y1="1119.8" x2="537.3" y2="1119.8" stroke="#111" stroke-width="1"/>
<polygon points="225.5,1119.8 234,1117.4 234,1122.2" fill="#1a1a1a"/>
<polygon points="447.4,1119.8 438.9,1122.2 438.9,1117.4" fill="#1a1a1a"/>
<polygon points="447.4,1119.8 454.4,1117.4 454.4,1122.2" fill="#1a1a1a"/>
<polygon points="483.3,1119.8 476.3,1122.2 476.3,1117.4" fill="#1a1a1a"/>
<polygon points="507,1119.8 514,1117.4 514,1122.2" fill="#1a1a1a"/>
<polygon points="537.3,1119.8 530.3,1122.2 530.3,1117.4" fill="#1a1a1a"/>
<text x="319.2" y="1115.1" font-size="17" fill="#424242" text-anchor="start" textLength="7" lengthAdjust="spacingAndGlyphs">J</text>
<text x="465" y="1115.1" font-size="17" fill="#424242" text-anchor="start" textLength="3" lengthAdjust="spacingAndGlyphs">I</text>
<text x="491.2" y="1115.1" font-size="17" fill="#424242" text-anchor="start" textLength="9" lengthAdjust="spacingAndGlyphs">8</text>
<line x1="447" y1="1068.3" x2="573.3" y2="1068.3" stroke="#1a1a1a" stroke-width="1"/>
<line x1="483.3" y1="1087.2" x2="573.3" y2="1087.2" stroke="#1a1a1a" stroke-width="1"/>
<line x1="569.4" y1="1029.2" x2="569.4" y2="1105.7" stroke="#111" stroke-width="1"/>
<polygon points="569.4,1068.1 567,1059.6 571.8,1059.6" fill="#1a1a1a"/>
<polygon points="569.4,1087.4 571.8,1095.9 567,1095.9" fill="#1a1a1a"/>
<text transform="translate(565.4,1054) rotate(-90)" x="0" y="0" font-size="17" fill="#424242" textLength="21.5" lengthAdjust="spacingAndGlyphs">6.5</text>
<line x1="196.4" y1="1081.3" x2="263" y2="1194.8" stroke="#222" stroke-width="1"/>
<polygon points="195.8,1080.3 202.23,1086.39 197.91,1088.9" fill="#1a1a1a"/>
<line x1="263" y1="1194.8" x2="65.2" y2="1194.8" stroke="#333" stroke-width="1"/>
<text x="40.8" y="1187" font-size="17" fill="#424242" text-anchor="start" textLength="200.7" lengthAdjust="spacingAndGlyphs">2 x M3 x 0.5 thread depth 4</text>
<line x1="442.4" y1="1075.9" x2="369.8" y2="1201.7" stroke="#222" stroke-width="1"/>
<polygon points="442.4,1075.9 440.42,1084.57 435.91,1081.97" fill="#1a1a1a"/>
<line x1="369.8" y1="1201.7" x2="542.9" y2="1201.7" stroke="#333" stroke-width="1"/>
<text x="396.8" y="1193.3" font-size="17" fill="#424242" text-anchor="start" textLength="119.2" lengthAdjust="spacingAndGlyphs">Inlet 2x M5 x 0.8</text>
<path d="M777.9,1012.7 L823.3,1012.7 L828.1,1016.9 L828.1,1141.5 L822.9,1146.3 L819.4,1146.3 L819.4,1141.5 A7.5,7.5 0 1 0 807.6,1141.5 L807.6,1146.3 L797.2,1146.3 L797.2,1141.5 A7.5,7.5 0 1 0 785.7,1141.5 L785.7,1146.3 L777.9,1146.3 Z" stroke="#3a3328" stroke-width="1.2" fill="#f6eddb"/>
<line x1="777.9" y1="1012.7" x2="823.3" y2="1012.7" stroke="#111" stroke-width="2.2"/>
<line x1="777.9" y1="1012.7" x2="777.9" y2="1041" stroke="#111" stroke-width="2.2"/>
<line x1="777.9" y1="1103.8" x2="777.9" y2="1124" stroke="#111" stroke-width="2"/>
<circle cx="802.5" cy="1055" r="15" stroke="#2a2520" stroke-width="1.3" fill="none"/>
<line x1="783.5" y1="1055" x2="821.5" y2="1055" stroke="#2a2520" stroke-width="1.2" stroke-dasharray="6,3,2,3"/>
<line x1="802.5" y1="1036" x2="802.5" y2="1074" stroke="#2a2520" stroke-width="1.2" stroke-dasharray="6,3,2,3"/>
<circle cx="802.5" cy="1111" r="15" stroke="#2a2520" stroke-width="1.3" fill="none"/>
<line x1="783.5" y1="1111" x2="821.5" y2="1111" stroke="#2a2520" stroke-width="1.2" stroke-dasharray="6,3,2,3"/>
<line x1="802.5" y1="1092" x2="802.5" y2="1130" stroke="#2a2520" stroke-width="1.2" stroke-dasharray="6,3,2,3"/>
<path d="M832.5,1024 L860,1024 Q863.2,1024 863.2,1027.2 L863.2,1139.3 Q863.2,1142.5 860,1142.5 L832.5,1142.5 Q829.3,1142.5 829.3,1139.3 L829.3,1027.2 Q829.3,1024 832.5,1024 Z" stroke="#4a4236" stroke-width="1.3" fill="#f6eddb"/>
<path d="M831,1060.7 A5,5 0 0 1 831,1070.7" stroke="#333" stroke-width="1.2" fill="none"/>
<path d="M831,1095.8 A5,5 0 0 1 831,1105.8" stroke="#333" stroke-width="1.2" fill="none"/>
<path d="M829.5,1044.3 Q835,1044 835,1046" stroke="#333" stroke-width="1" fill="none"/>
<path d="M829.5,1120.5 Q835,1121 835,1119" stroke="#333" stroke-width="1" fill="none"/>
<line x1="843.6" y1="1046" x2="843.6" y2="1119.9" stroke="#555" stroke-width="1"/>
<line x1="846" y1="1050" x2="846" y2="1115.7" stroke="#222" stroke-width="1.3"/>
<rect x="778.7" y="1076.4" width="29.8" height="13.7" stroke="#1a1a1a" stroke-width="1.6" fill="#f6eddb"/>
<line x1="808.5" y1="1078" x2="824.5" y2="1078" stroke="#333" stroke-width="1"/>
<line x1="808.5" y1="1088.5" x2="824.5" y2="1088.5" stroke="#333" stroke-width="1"/>
<rect x="824.5" y="1071" width="38.3" height="24.5" stroke="#1a1a1a" stroke-width="1.3" fill="none"/>
<line x1="767" y1="1083.3" x2="875" y2="1083.3" stroke="#333" stroke-width="1" stroke-dasharray="14,3,4,3"/>
<line x1="729.8" y1="1076.4" x2="808.5" y2="1076.4" stroke="#111" stroke-width="1.4"/>
<line x1="729.8" y1="1090.2" x2="808.5" y2="1090.2" stroke="#111" stroke-width="1.4"/>
<line x1="862.8" y1="1071" x2="910" y2="1071" stroke="#111" stroke-width="1.5"/>
<line x1="862.8" y1="1095.5" x2="910" y2="1095.5" stroke="#111" stroke-width="1.5"/>
<line x1="910" y1="1071" x2="942.2" y2="1071" stroke="#444" stroke-width="1"/>
<line x1="910" y1="1095.5" x2="942.2" y2="1095.5" stroke="#444" stroke-width="1"/>
<line x1="735.7" y1="1052.6" x2="735.7" y2="1158.8" stroke="#111" stroke-width="1.2"/>
<polygon points="735.7,1076.2 733.3,1067.7 738.1,1067.7" fill="#1a1a1a"/>
<polygon points="735.7,1090.4 738.1,1098.9 733.3,1098.9" fill="#1a1a1a"/>
<text transform="translate(726.8,1143.9) rotate(-90)" x="0" y="0" font-size="18" fill="#424242" textLength="37" lengthAdjust="spacingAndGlyphs">∅3.2</text>
<line x1="897.5" y1="1071" x2="897.5" y2="1154.8" stroke="#111" stroke-width="1.2"/>
<polygon points="897.5,1071.2 899.9,1078.2 895.1,1078.2" fill="#1a1a1a"/>
<polygon points="897.5,1095.3 895.1,1088.3 899.9,1088.3" fill="#1a1a1a"/>
<line x1="897.5" y1="1071" x2="897.5" y2="1095.5" stroke="#111" stroke-width="1.2"/>
<text transform="translate(890.6,1143.9) rotate(-90)" x="0" y="0" font-size="18" fill="#424242" textLength="37" lengthAdjust="spacingAndGlyphs">∅6.5</text>
<line x1="936.2" y1="1071" x2="936.2" y2="1136" stroke="#111" stroke-width="1.2"/>
<polygon points="936.2,1071.2 938.6,1078.2 933.8,1078.2" fill="#1a1a1a"/>
<polygon points="936.2,1095.3 933.8,1088.3 938.6,1088.3" fill="#1a1a1a"/>
<text transform="translate(927.3,1129) rotate(-90)" x="0" y="0" font-size="18" fill="#424242" textLength="22" lengthAdjust="spacingAndGlyphs">∅7</text>
<line x1="777.9" y1="1146" x2="777.9" y2="1194.5" stroke="#111" stroke-width="1.2"/>
<line x1="824.5" y1="1095" x2="824.5" y2="1194.5" stroke="#333" stroke-width="1"/>
<line x1="845.9" y1="1118" x2="845.9" y2="1194.5" stroke="#111" stroke-width="1.3"/>
<line x1="718.9" y1="1189.6" x2="896.5" y2="1189.6" stroke="#111" stroke-width="1.2"/>
<polygon points="777.9,1189.6 786.4,1187.2 786.4,1192" fill="#1a1a1a"/>
<polygon points="824.5,1189.6 816,1192 816,1187.2" fill="#1a1a1a"/>
<polygon points="845.9,1189.6 854.4,1187.2 854.4,1192" fill="#1a1a1a"/>
<text x="732.8" y="1182.6" font-size="17" fill="#424242" text-anchor="start" textLength="30.5" lengthAdjust="spacingAndGlyphs">12.5</text>
<text x="869.7" y="1182.6" font-size="17" fill="#424242" text-anchor="start" textLength="21" lengthAdjust="spacingAndGlyphs">5.7</text>
<text x="779.4" y="1235.2" font-size="17" fill="#424242" text-anchor="start" textLength="56.6" lengthAdjust="spacingAndGlyphs">Section</text>
<text x="846.9" y="1235.2" font-size="17" fill="#424242" text-anchor="start" textLength="17.8" lengthAdjust="spacingAndGlyphs">BB</text>
<text x="1155" y="1015.1" font-size="17" fill="#424242" text-anchor="start" textLength="211.6" lengthAdjust="spacingAndGlyphs">NN x M4x 0.7 thread depth 8</text>
<line x1="1128.8" y1="1026.7" x2="1356.1" y2="1026.7" stroke="#333" stroke-width="1"/>
<path d="M1163.5,1052.7 L1201.4,1052.7 L1205.6,1056.9 L1205.6,1165.2 L1198,1165.2 L1198,1161 A5.7,5.7 0 1 0 1189.4,1161 L1189.4,1165.2 L1178.4,1165.2 L1178.4,1161 A5.7,5.7 0 1 0 1169.8,1161 L1169.8,1165.2 L1163.5,1165.2 Z" stroke="#3a3328" stroke-width="1.2" fill="#f6eddb"/>
<circle cx="1183.9" cy="1089.4" r="12.9" stroke="#2a2520" stroke-width="1.3" fill="none"/>
<line x1="1168" y1="1089.4" x2="1199.8" y2="1089.4" stroke="#2a2520" stroke-width="1.2" stroke-dasharray="5,2.5,2,2.5"/>
<line x1="1183.9" y1="1073.5" x2="1183.9" y2="1105.3" stroke="#2a2520" stroke-width="1.2" stroke-dasharray="5,2.5,2,2.5"/>
<circle cx="1183.9" cy="1135.8" r="12.9" stroke="#2a2520" stroke-width="1.3" fill="none"/>
<line x1="1168" y1="1135.8" x2="1199.8" y2="1135.8" stroke="#2a2520" stroke-width="1.2" stroke-dasharray="5,2.5,2,2.5"/>
<line x1="1183.9" y1="1119.9" x2="1183.9" y2="1151.7" stroke="#2a2520" stroke-width="1.2" stroke-dasharray="5,2.5,2,2.5"/>
<rect x="1164.1" y="1106.9" width="25" height="11.9" stroke="#1a1a1a" stroke-width="1.5" fill="#f6eddb"/>
<line x1="1189.5" y1="1109" x2="1203" y2="1109" stroke="#333" stroke-width="1"/>
<line x1="1189.5" y1="1116.5" x2="1203" y2="1116.5" stroke="#333" stroke-width="1"/>
<rect x="1164.3" y="1064.6" width="9.3" height="8.3" stroke="#222" stroke-width="1.3" fill="none"/>
<path d="M1173.6,1064.6 L1177.7,1068.7 L1173.6,1072.9" stroke="#222" stroke-width="1.3" fill="none"/>
<line x1="1160" y1="1068.7" x2="1180" y2="1068.7" stroke="#444" stroke-width="0.9"/>
<path d="M1211.5,1062.5 L1231,1062.5 Q1235,1062.5 1235,1066.5 L1235,1158.7 Q1235,1162.7 1231,1162.7 L1211.5,1162.7 Q1207.6,1162.7 1207.6,1158.7 L1207.6,1066.5 Q1207.6,1062.5 1211.5,1062.5 Z" stroke="#4a4236" stroke-width="1.3" fill="#f6eddb"/>
<rect x="1202.5" y="1083.2" width="17.5" height="58.8" stroke="#222" stroke-width="1.2" fill="#f6eddb"/>
<line x1="1203.2" y1="1102.1" x2="1219.9" y2="1102.1" stroke="#333" stroke-width="1"/>
<line x1="1203.2" y1="1123.1" x2="1219.9" y2="1123.1" stroke="#333" stroke-width="1"/>
<circle cx="1213.3" cy="1082.2" r="3.5" stroke="#333" stroke-width="1" fill="none"/>
<polygon points="1207.8,1082.2 1213.3,1076.7 1218.8,1082.2 1213.3,1087.7" stroke="#333" stroke-width="1" fill="none" stroke-linejoin="round"/>
<line x1="1209" y1="1082.2" x2="1218" y2="1082.2" stroke="#333" stroke-width="0.8"/>
<line x1="1213.3" y1="1078.2" x2="1213.3" y2="1086.2" stroke="#333" stroke-width="0.8"/>
<circle cx="1213.3" cy="1142.5" r="3.5" stroke="#333" stroke-width="1" fill="none"/>
<polygon points="1207.8,1142.5 1213.3,1137 1218.8,1142.5 1213.3,1148" stroke="#333" stroke-width="1" fill="none" stroke-linejoin="round"/>
<line x1="1209" y1="1142.5" x2="1218" y2="1142.5" stroke="#333" stroke-width="0.8"/>
<line x1="1213.3" y1="1138.5" x2="1213.3" y2="1146.5" stroke="#333" stroke-width="0.8"/>
<line x1="1155" y1="1112.8" x2="1245" y2="1112.8" stroke="#444" stroke-width="1" stroke-dasharray="12,3,4,3"/>
<line x1="1122.5" y1="1107.4" x2="1189.5" y2="1107.4" stroke="#111" stroke-width="1.3"/>
<line x1="1122.5" y1="1118.2" x2="1189.5" y2="1118.2" stroke="#111" stroke-width="1.3"/>
<line x1="1219.9" y1="1102.1" x2="1276" y2="1102.1" stroke="#111" stroke-width="1.4"/>
<line x1="1219.9" y1="1123.1" x2="1276" y2="1123.1" stroke="#111" stroke-width="1.4"/>
<line x1="1276" y1="1102.1" x2="1301.7" y2="1102.1" stroke="#444" stroke-width="1"/>
<line x1="1276" y1="1123.1" x2="1301.7" y2="1123.1" stroke="#444" stroke-width="1"/>
<line x1="1127.7" y1="1087.4" x2="1127.7" y2="1176.5" stroke="#111" stroke-width="1.2"/>
<polygon points="1127.7,1107.2 1125.3,1098.7 1130.1,1098.7" fill="#1a1a1a"/>
<polygon points="1127.7,1118.4 1130.1,1126.9 1125.3,1126.9" fill="#1a1a1a"/>
<text transform="translate(1121.4,1165) rotate(-90)" x="0" y="0" font-size="18" fill="#424242" textLength="35.6" lengthAdjust="spacingAndGlyphs">∅3.2</text>
<line x1="1265" y1="1102.1" x2="1265" y2="1173.4" stroke="#111" stroke-width="1.2"/>
<polygon points="1265,1102.3 1267.4,1109.3 1262.6,1109.3" fill="#1a1a1a"/>
<polygon points="1265,1122.9 1262.6,1115.9 1267.4,1115.9" fill="#1a1a1a"/>
<text transform="translate(1257.6,1166) rotate(-90)" x="0" y="0" font-size="18" fill="#424242" textLength="36.6" lengthAdjust="spacingAndGlyphs">∅6.5</text>
<line x1="1297.5" y1="1102.1" x2="1297.5" y2="1157.6" stroke="#111" stroke-width="1.2"/>
<polygon points="1297.5,1102.3 1299.9,1109.3 1295.1,1109.3" fill="#1a1a1a"/>
<polygon points="1297.5,1122.9 1295.1,1115.9 1299.9,1115.9" fill="#1a1a1a"/>
<text transform="translate(1292.2,1151.4) rotate(-90)" x="0" y="0" font-size="18" fill="#424242" textLength="22" lengthAdjust="spacingAndGlyphs">∅7</text>
<line x1="1163.3" y1="1166" x2="1163.3" y2="1208" stroke="#111" stroke-width="1.2"/>
<line x1="1202.1" y1="1141" x2="1202.1" y2="1208" stroke="#333" stroke-width="1"/>
<line x1="1220.3" y1="1084" x2="1220.3" y2="1208" stroke="#111" stroke-width="1.2"/>
<line x1="1114.1" y1="1202.7" x2="1263.9" y2="1202.7" stroke="#111" stroke-width="1.2"/>
<polygon points="1163.3,1202.7 1171.8,1200.3 1171.8,1205.1" fill="#1a1a1a"/>
<polygon points="1202.1,1202.7 1193.6,1205.1 1193.6,1200.3" fill="#1a1a1a"/>
<polygon points="1220.3,1202.7 1228.8,1200.3 1228.8,1205.1" fill="#1a1a1a"/>
<text x="1125.6" y="1199.6" font-size="17" fill="#424242" text-anchor="start" textLength="30.4" lengthAdjust="spacingAndGlyphs">12.5</text>
<text x="1235.6" y="1199.6" font-size="17" fill="#424242" text-anchor="start" textLength="22" lengthAdjust="spacingAndGlyphs">5.7</text>
<text x="1159.2" y="1240.4" font-size="17" fill="#424242" text-anchor="start" textLength="56.5" lengthAdjust="spacingAndGlyphs">Section</text>
<text x="1224.1" y="1240.4" font-size="17" fill="#424242" text-anchor="start" textLength="19.9" lengthAdjust="spacingAndGlyphs">AA</text>
<line x1="1128.8" y1="1026.7" x2="1172.8" y2="1105.3" stroke="#222" stroke-width="1"/>
<polygon points="1173.6,1106.6 1166.92,1100.03 1171.45,1097.48" fill="#1a1a1a"/>
</svg></body></html>
